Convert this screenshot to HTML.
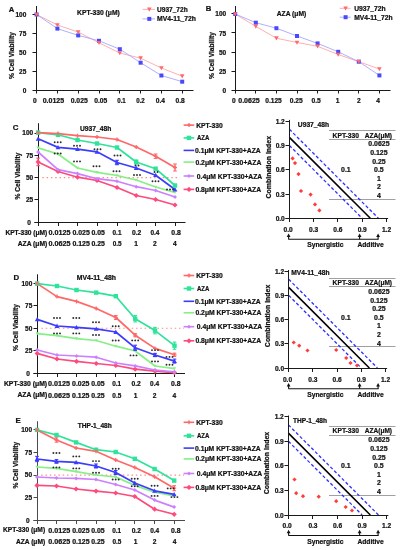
<!DOCTYPE html>
<html><head><meta charset="utf-8"><style>
html,body{margin:0;padding:0;background:#fff;}
body{width:401px;height:550px;overflow:hidden;}
svg{display:block;font-family:"Liberation Sans",sans-serif;will-change:transform;}
text{stroke:#111;stroke-width:0.22px;}
</style></head><body>
<svg width="401" height="550" viewBox="0 0 401 550">
<rect width="401" height="550" fill="#fff"/>
<text x="8.80" y="12.20" font-size="7.7" text-anchor="start" font-weight="bold" fill="#111" >A</text>
<line x1="36.50" y1="6.00" x2="36.50" y2="91.00" stroke="#1a1a1a" stroke-width="1.0" />
<line x1="36.50" y1="90.50" x2="193.50" y2="90.50" stroke="#1a1a1a" stroke-width="1.0" />
<line x1="32.50" y1="90.50" x2="36.50" y2="90.50" stroke="#1a1a1a" stroke-width="1.0" />
<text x="26.30" y="92.98" font-size="6.5" text-anchor="end" font-weight="bold" fill="#111" >0</text>
<line x1="32.50" y1="71.50" x2="36.50" y2="71.50" stroke="#1a1a1a" stroke-width="1.0" />
<text x="26.30" y="74.05" font-size="6.5" text-anchor="end" font-weight="bold" fill="#111" >25</text>
<line x1="32.50" y1="52.50" x2="36.50" y2="52.50" stroke="#1a1a1a" stroke-width="1.0" />
<text x="26.30" y="55.12" font-size="6.5" text-anchor="end" font-weight="bold" fill="#111" >50</text>
<line x1="32.50" y1="33.50" x2="36.50" y2="33.50" stroke="#1a1a1a" stroke-width="1.0" />
<text x="26.30" y="36.20" font-size="6.5" text-anchor="end" font-weight="bold" fill="#111" >75</text>
<line x1="32.50" y1="14.50" x2="36.50" y2="14.50" stroke="#1a1a1a" stroke-width="1.0" />
<text x="26.30" y="17.27" font-size="6.5" text-anchor="end" font-weight="bold" fill="#111" >100</text>
<line x1="36.50" y1="90.50" x2="36.50" y2="93.50" stroke="#1a1a1a" stroke-width="1.0" />
<line x1="57.50" y1="90.50" x2="57.50" y2="93.50" stroke="#1a1a1a" stroke-width="1.0" />
<line x1="78.50" y1="90.50" x2="78.50" y2="93.50" stroke="#1a1a1a" stroke-width="1.0" />
<line x1="99.50" y1="90.50" x2="99.50" y2="93.50" stroke="#1a1a1a" stroke-width="1.0" />
<line x1="119.50" y1="90.50" x2="119.50" y2="93.50" stroke="#1a1a1a" stroke-width="1.0" />
<line x1="140.50" y1="90.50" x2="140.50" y2="93.50" stroke="#1a1a1a" stroke-width="1.0" />
<line x1="161.50" y1="90.50" x2="161.50" y2="93.50" stroke="#1a1a1a" stroke-width="1.0" />
<line x1="182.50" y1="90.50" x2="182.50" y2="93.50" stroke="#1a1a1a" stroke-width="1.0" />
<text x="34.90" y="102.61" font-size="6.6" text-anchor="middle" font-weight="bold" fill="#111" >0</text>
<text x="42.65" y="102.61" font-size="6.6" text-anchor="start" font-weight="bold" fill="#111"  textLength="21.50" lengthAdjust="spacingAndGlyphs">0.0125</text>
<text x="70.65" y="102.61" font-size="6.6" text-anchor="start" font-weight="bold" fill="#111"  textLength="17.10" lengthAdjust="spacingAndGlyphs">0.025</text>
<text x="94.25" y="102.61" font-size="6.6" text-anchor="start" font-weight="bold" fill="#111"  textLength="13.10" lengthAdjust="spacingAndGlyphs">0.05</text>
<text x="117.25" y="102.61" font-size="6.6" text-anchor="start" font-weight="bold" fill="#111"  textLength="8.50" lengthAdjust="spacingAndGlyphs">0.1</text>
<text x="136.25" y="102.61" font-size="6.6" text-anchor="start" font-weight="bold" fill="#111"  textLength="8.50" lengthAdjust="spacingAndGlyphs">0.2</text>
<text x="155.75" y="102.61" font-size="6.6" text-anchor="start" font-weight="bold" fill="#111"  textLength="9.20" lengthAdjust="spacingAndGlyphs">0.4</text>
<text x="175.55" y="102.61" font-size="6.6" text-anchor="start" font-weight="bold" fill="#111"  textLength="9.20" lengthAdjust="spacingAndGlyphs">0.8</text>
<text x="13.91" y="55.50" font-size="6.6" text-anchor="middle" font-weight="bold" fill="#111" transform="rotate(-90 13.91 55.50)">% Cell Viability</text>
<text x="77.05" y="15.28" font-size="6.8" text-anchor="start" font-weight="bold" fill="#111"  textLength="42.70" lengthAdjust="spacingAndGlyphs">KPT-330 (μM)</text>
<polyline points="36.60,14.50 57.40,25.00 78.20,32.00 99.00,42.80 119.80,53.00 140.60,58.20 161.40,68.00 182.20,76.20" fill="none" stroke="#ffa6a6" stroke-width="0.9" stroke-linejoin="round" />
<polyline points="36.60,14.50 57.40,28.60 78.20,35.40 99.00,40.80 119.80,49.20 140.60,62.70 161.40,75.50 182.20,81.70" fill="none" stroke="#a6a6ff" stroke-width="0.9" stroke-linejoin="round" />
<rect x="34.60" y="12.50" width="4.00" height="4.00" fill="#4848ff"/>
<rect x="55.40" y="26.60" width="4.00" height="4.00" fill="#4848ff"/>
<rect x="76.20" y="33.40" width="4.00" height="4.00" fill="#4848ff"/>
<rect x="97.00" y="38.80" width="4.00" height="4.00" fill="#4848ff"/>
<rect x="117.80" y="47.20" width="4.00" height="4.00" fill="#4848ff"/>
<rect x="138.60" y="60.70" width="4.00" height="4.00" fill="#4848ff"/>
<rect x="159.40" y="73.50" width="4.00" height="4.00" fill="#4848ff"/>
<rect x="180.20" y="79.70" width="4.00" height="4.00" fill="#4848ff"/>
<polygon points="34.30,12.66 38.90,12.66 36.60,16.80" fill="#ff6a6a"/>
<polygon points="55.10,23.16 59.70,23.16 57.40,27.30" fill="#ff6a6a"/>
<polygon points="75.90,30.16 80.50,30.16 78.20,34.30" fill="#ff6a6a"/>
<polygon points="96.70,40.96 101.30,40.96 99.00,45.10" fill="#ff6a6a"/>
<polygon points="117.50,51.16 122.10,51.16 119.80,55.30" fill="#ff6a6a"/>
<polygon points="138.30,56.36 142.90,56.36 140.60,60.50" fill="#ff6a6a"/>
<polygon points="159.10,66.16 163.70,66.16 161.40,70.30" fill="#ff6a6a"/>
<polygon points="179.90,74.36 184.50,74.36 182.20,78.50" fill="#ff6a6a"/>
<line x1="142.50" y1="9.40" x2="155.00" y2="9.40" stroke="#ffa6a6" stroke-width="0.9" />
<polygon points="147.00,7.56 151.60,7.56 149.30,11.70" fill="#ff6a6a"/>
<text x="157.05" y="11.88" font-size="6.8" text-anchor="start" font-weight="bold" fill="#111"  textLength="30.60" lengthAdjust="spacingAndGlyphs">U937_72h</text>
<line x1="142.50" y1="18.90" x2="155.00" y2="18.90" stroke="#a6a6ff" stroke-width="0.9" />
<rect x="147.30" y="16.90" width="4.00" height="4.00" fill="#4848ff"/>
<text x="157.05" y="21.38" font-size="6.8" text-anchor="start" font-weight="bold" fill="#111"  textLength="38.80" lengthAdjust="spacingAndGlyphs">MV4-11_72h</text>
<text x="205.80" y="11.30" font-size="7.7" text-anchor="start" font-weight="bold" fill="#111" >B</text>
<line x1="235.50" y1="6.00" x2="235.50" y2="91.00" stroke="#1a1a1a" stroke-width="1.0" />
<line x1="235.50" y1="90.50" x2="390.50" y2="90.50" stroke="#1a1a1a" stroke-width="1.0" />
<line x1="231.50" y1="90.50" x2="235.50" y2="90.50" stroke="#1a1a1a" stroke-width="1.0" />
<text x="226.20" y="92.88" font-size="6.5" text-anchor="end" font-weight="bold" fill="#111" >0</text>
<line x1="231.50" y1="71.50" x2="235.50" y2="71.50" stroke="#1a1a1a" stroke-width="1.0" />
<text x="226.20" y="73.78" font-size="6.5" text-anchor="end" font-weight="bold" fill="#111" >25</text>
<line x1="231.50" y1="52.50" x2="235.50" y2="52.50" stroke="#1a1a1a" stroke-width="1.0" />
<text x="226.20" y="54.67" font-size="6.5" text-anchor="end" font-weight="bold" fill="#111" >50</text>
<line x1="231.50" y1="32.50" x2="235.50" y2="32.50" stroke="#1a1a1a" stroke-width="1.0" />
<text x="226.20" y="35.58" font-size="6.5" text-anchor="end" font-weight="bold" fill="#111" >75</text>
<line x1="231.50" y1="13.50" x2="235.50" y2="13.50" stroke="#1a1a1a" stroke-width="1.0" />
<text x="226.20" y="16.47" font-size="6.5" text-anchor="end" font-weight="bold" fill="#111" >100</text>
<line x1="235.50" y1="90.50" x2="235.50" y2="93.50" stroke="#1a1a1a" stroke-width="1.0" />
<line x1="255.50" y1="90.50" x2="255.50" y2="93.50" stroke="#1a1a1a" stroke-width="1.0" />
<line x1="276.50" y1="90.50" x2="276.50" y2="93.50" stroke="#1a1a1a" stroke-width="1.0" />
<line x1="297.50" y1="90.50" x2="297.50" y2="93.50" stroke="#1a1a1a" stroke-width="1.0" />
<line x1="317.50" y1="90.50" x2="317.50" y2="93.50" stroke="#1a1a1a" stroke-width="1.0" />
<line x1="338.50" y1="90.50" x2="338.50" y2="93.50" stroke="#1a1a1a" stroke-width="1.0" />
<line x1="358.50" y1="90.50" x2="358.50" y2="93.50" stroke="#1a1a1a" stroke-width="1.0" />
<line x1="379.50" y1="90.50" x2="379.50" y2="93.50" stroke="#1a1a1a" stroke-width="1.0" />
<text x="233.90" y="102.61" font-size="6.6" text-anchor="middle" font-weight="bold" fill="#111" >0</text>
<text x="238.25" y="102.61" font-size="6.6" text-anchor="start" font-weight="bold" fill="#111"  textLength="21.50" lengthAdjust="spacingAndGlyphs">0.0625</text>
<text x="265.25" y="102.61" font-size="6.6" text-anchor="start" font-weight="bold" fill="#111"  textLength="16.50" lengthAdjust="spacingAndGlyphs">0.125</text>
<text x="289.85" y="102.61" font-size="6.6" text-anchor="start" font-weight="bold" fill="#111"  textLength="12.90" lengthAdjust="spacingAndGlyphs">0.25</text>
<text x="311.55" y="102.61" font-size="6.6" text-anchor="start" font-weight="bold" fill="#111"  textLength="9.30" lengthAdjust="spacingAndGlyphs">0.5</text>
<text x="337.50" y="102.61" font-size="6.6" text-anchor="middle" font-weight="bold" fill="#111" >1</text>
<text x="358.80" y="102.61" font-size="6.6" text-anchor="middle" font-weight="bold" fill="#111" >2</text>
<text x="378.20" y="102.61" font-size="6.6" text-anchor="middle" font-weight="bold" fill="#111" >4</text>
<text x="213.71" y="55.50" font-size="6.6" text-anchor="middle" font-weight="bold" fill="#111" transform="rotate(-90 213.71 55.50)">% Cell Viability</text>
<text x="276.75" y="15.88" font-size="6.8" text-anchor="start" font-weight="bold" fill="#111"  textLength="29.50" lengthAdjust="spacingAndGlyphs">AZA (μM)</text>
<polyline points="235.20,14.00 255.80,26.40 276.40,38.20 297.00,42.50 317.60,46.30 338.20,54.50 358.80,61.70 379.40,69.00" fill="none" stroke="#ffa6a6" stroke-width="0.9" stroke-linejoin="round" />
<polyline points="235.20,14.00 255.80,22.70 276.40,28.20 297.00,36.00 317.60,43.40 338.20,51.80 358.80,61.70 379.40,75.40" fill="none" stroke="#a6a6ff" stroke-width="0.9" stroke-linejoin="round" />
<rect x="233.20" y="12.00" width="4.00" height="4.00" fill="#4848ff"/>
<rect x="253.80" y="20.70" width="4.00" height="4.00" fill="#4848ff"/>
<rect x="274.40" y="26.20" width="4.00" height="4.00" fill="#4848ff"/>
<rect x="295.00" y="34.00" width="4.00" height="4.00" fill="#4848ff"/>
<rect x="315.60" y="41.40" width="4.00" height="4.00" fill="#4848ff"/>
<rect x="336.20" y="49.80" width="4.00" height="4.00" fill="#4848ff"/>
<rect x="356.80" y="59.70" width="4.00" height="4.00" fill="#4848ff"/>
<rect x="377.40" y="73.40" width="4.00" height="4.00" fill="#4848ff"/>
<polygon points="232.90,12.16 237.50,12.16 235.20,16.30" fill="#ff6a6a"/>
<polygon points="253.50,24.56 258.10,24.56 255.80,28.70" fill="#ff6a6a"/>
<polygon points="274.10,36.36 278.70,36.36 276.40,40.50" fill="#ff6a6a"/>
<polygon points="294.70,40.66 299.30,40.66 297.00,44.80" fill="#ff6a6a"/>
<polygon points="315.30,44.46 319.90,44.46 317.60,48.60" fill="#ff6a6a"/>
<polygon points="335.90,52.66 340.50,52.66 338.20,56.80" fill="#ff6a6a"/>
<polygon points="356.50,59.86 361.10,59.86 358.80,64.00" fill="#ff6a6a"/>
<polygon points="377.10,67.16 381.70,67.16 379.40,71.30" fill="#ff6a6a"/>
<line x1="339.70" y1="8.30" x2="350.60" y2="8.30" stroke="#ffa6a6" stroke-width="0.9" />
<polygon points="343.30,6.46 347.90,6.46 345.60,10.60" fill="#ff6a6a"/>
<text x="354.15" y="10.78" font-size="6.8" text-anchor="start" font-weight="bold" fill="#111"  textLength="31.40" lengthAdjust="spacingAndGlyphs">U937_72h</text>
<line x1="339.70" y1="17.20" x2="350.60" y2="17.20" stroke="#a6a6ff" stroke-width="0.9" />
<rect x="343.60" y="15.20" width="4.00" height="4.00" fill="#4848ff"/>
<text x="354.15" y="19.68" font-size="6.8" text-anchor="start" font-weight="bold" fill="#111"  textLength="38.40" lengthAdjust="spacingAndGlyphs">MV4-11_72h</text>
<text x="12.80" y="130.30" font-size="7.9" text-anchor="start" font-weight="bold" fill="#111" >C</text>
<line x1="38.50" y1="123.20" x2="38.50" y2="226.00" stroke="#1a1a1a" stroke-width="1.0" />
<line x1="34.50" y1="222.50" x2="185.50" y2="222.50" stroke="#1a1a1a" stroke-width="1.0" />
<line x1="34.50" y1="222.50" x2="38.50" y2="222.50" stroke="#1a1a1a" stroke-width="1.0" />
<text x="30.80" y="225.18" font-size="6.5" text-anchor="end" font-weight="bold" fill="#111" >0</text>
<line x1="34.50" y1="199.50" x2="38.50" y2="199.50" stroke="#1a1a1a" stroke-width="1.0" />
<text x="33.20" y="202.35" font-size="6.5" text-anchor="end" font-weight="bold" fill="#111" >25</text>
<line x1="34.50" y1="177.50" x2="38.50" y2="177.50" stroke="#1a1a1a" stroke-width="1.0" />
<text x="33.20" y="180.03" font-size="6.5" text-anchor="end" font-weight="bold" fill="#111" >50</text>
<line x1="34.50" y1="155.50" x2="38.50" y2="155.50" stroke="#1a1a1a" stroke-width="1.0" />
<text x="33.20" y="157.70" font-size="6.5" text-anchor="end" font-weight="bold" fill="#111" >75</text>
<line x1="34.50" y1="133.50" x2="38.50" y2="133.50" stroke="#1a1a1a" stroke-width="1.0" />
<text x="33.20" y="135.38" font-size="6.5" text-anchor="end" font-weight="bold" fill="#111" >100</text>
<line x1="58.50" y1="222.50" x2="58.50" y2="226.00" stroke="#1a1a1a" stroke-width="1.0" />
<line x1="77.50" y1="222.50" x2="77.50" y2="226.00" stroke="#1a1a1a" stroke-width="1.0" />
<line x1="97.50" y1="222.50" x2="97.50" y2="226.00" stroke="#1a1a1a" stroke-width="1.0" />
<line x1="117.50" y1="222.50" x2="117.50" y2="226.00" stroke="#1a1a1a" stroke-width="1.0" />
<line x1="136.50" y1="222.50" x2="136.50" y2="226.00" stroke="#1a1a1a" stroke-width="1.0" />
<line x1="155.50" y1="222.50" x2="155.50" y2="226.00" stroke="#1a1a1a" stroke-width="1.0" />
<line x1="175.50" y1="222.50" x2="175.50" y2="226.00" stroke="#1a1a1a" stroke-width="1.0" />
<text x="20.11" y="176.00" font-size="6.6" text-anchor="middle" font-weight="bold" fill="#111" transform="rotate(-90 20.11 176.00)">% Cell Viability</text>
<text x="5.45" y="234.68" font-size="6.5" text-anchor="start" font-weight="bold" fill="#111"  textLength="41.80" lengthAdjust="spacingAndGlyphs">KPT-330 (μM)</text>
<text x="17.75" y="245.68" font-size="6.5" text-anchor="start" font-weight="bold" fill="#111"  textLength="29.50" lengthAdjust="spacingAndGlyphs">AZA (μM)</text>
<text x="48.45" y="234.71" font-size="6.6" text-anchor="start" font-weight="bold" fill="#111"  textLength="22.00" lengthAdjust="spacingAndGlyphs">0.0125</text>
<text x="72.45" y="234.71" font-size="6.6" text-anchor="start" font-weight="bold" fill="#111"  textLength="17.40" lengthAdjust="spacingAndGlyphs">0.025</text>
<text x="91.55" y="234.71" font-size="6.6" text-anchor="start" font-weight="bold" fill="#111"  textLength="13.40" lengthAdjust="spacingAndGlyphs">0.05</text>
<text x="112.55" y="234.71" font-size="6.6" text-anchor="start" font-weight="bold" fill="#111"  textLength="8.90" lengthAdjust="spacingAndGlyphs">0.1</text>
<text x="131.95" y="234.71" font-size="6.6" text-anchor="start" font-weight="bold" fill="#111"  textLength="9.30" lengthAdjust="spacingAndGlyphs">0.2</text>
<text x="150.45" y="234.71" font-size="6.6" text-anchor="start" font-weight="bold" fill="#111"  textLength="9.00" lengthAdjust="spacingAndGlyphs">0.4</text>
<text x="171.35" y="234.71" font-size="6.6" text-anchor="start" font-weight="bold" fill="#111"  textLength="9.50" lengthAdjust="spacingAndGlyphs">0.8</text>
<text x="48.45" y="245.71" font-size="6.6" text-anchor="start" font-weight="bold" fill="#111"  textLength="22.00" lengthAdjust="spacingAndGlyphs">0.0625</text>
<text x="72.45" y="245.71" font-size="6.6" text-anchor="start" font-weight="bold" fill="#111"  textLength="17.40" lengthAdjust="spacingAndGlyphs">0.125</text>
<text x="91.55" y="245.71" font-size="6.6" text-anchor="start" font-weight="bold" fill="#111"  textLength="13.40" lengthAdjust="spacingAndGlyphs">0.25</text>
<text x="112.75" y="245.71" font-size="6.6" text-anchor="start" font-weight="bold" fill="#111"  textLength="8.90" lengthAdjust="spacingAndGlyphs">0.5</text>
<text x="136.00" y="245.71" font-size="6.6" text-anchor="middle" font-weight="bold" fill="#111" >1</text>
<text x="154.90" y="245.71" font-size="6.6" text-anchor="middle" font-weight="bold" fill="#111" >2</text>
<text x="174.80" y="245.71" font-size="6.6" text-anchor="middle" font-weight="bold" fill="#111" >4</text>
<text x="79.95" y="130.78" font-size="6.8" text-anchor="start" font-weight="bold" fill="#111"  textLength="31.40" lengthAdjust="spacingAndGlyphs">U937_48h</text>
<line x1="42.30" y1="177.65" x2="180.00" y2="177.65" stroke="#ff8c8c" stroke-width="1.1" stroke-dasharray="1.5 2.8"/>
<polyline points="38.10,161.90 58.00,171.50 77.50,177.20 97.00,180.50 117.00,187.50 136.20,195.50 155.60,199.50 175.00,205.00" fill="none" stroke="#ff4a7c" stroke-width="1.7" stroke-linejoin="round" />
<polyline points="38.10,152.00 58.00,169.70 77.50,173.60 97.00,178.70 117.00,181.20 136.20,186.70 155.60,190.50 175.00,197.00" fill="none" stroke="#cc80ff" stroke-width="1.7" stroke-linejoin="round" />
<polyline points="38.10,147.90 58.00,154.00 77.50,168.00 97.00,172.40 117.00,175.50 136.20,180.00 155.60,187.00 175.00,192.50" fill="none" stroke="#86f086" stroke-width="1.7" stroke-linejoin="round" />
<polyline points="38.10,138.80 58.00,147.40 77.50,149.10 97.00,151.80 117.00,162.50 136.20,168.00 155.60,175.20 175.00,189.50" fill="none" stroke="#3c3cff" stroke-width="1.7" stroke-linejoin="round" />
<polyline points="38.10,132.60 58.00,134.80 77.50,140.00 97.00,143.50 117.00,147.50 136.20,162.00 155.60,168.70 175.00,185.50" fill="none" stroke="#2ee39a" stroke-width="1.7" stroke-linejoin="round" />
<polyline points="38.10,132.60 58.00,133.60 77.50,135.70 97.00,137.00 117.00,139.50 136.20,147.00 155.60,156.20 175.00,167.50" fill="none" stroke="#ff6868" stroke-width="1.7" stroke-linejoin="round" />
<polygon points="38.10,159.30 40.70,161.90 38.10,164.50 35.50,161.90" fill="#ff4a7c"/>
<polygon points="58.00,168.90 60.60,171.50 58.00,174.10 55.40,171.50" fill="#ff4a7c"/>
<polygon points="77.50,174.60 80.10,177.20 77.50,179.80 74.90,177.20" fill="#ff4a7c"/>
<polygon points="97.00,177.90 99.60,180.50 97.00,183.10 94.40,180.50" fill="#ff4a7c"/>
<polygon points="117.00,184.90 119.60,187.50 117.00,190.10 114.40,187.50" fill="#ff4a7c"/>
<polygon points="136.20,192.90 138.80,195.50 136.20,198.10 133.60,195.50" fill="#ff4a7c"/>
<polygon points="155.60,196.90 158.20,199.50 155.60,202.10 153.00,199.50" fill="#ff4a7c"/>
<polygon points="175.00,202.40 177.60,205.00 175.00,207.60 172.40,205.00" fill="#ff4a7c"/>
<polygon points="38.10,150.00 40.10,152.00 38.10,154.00 36.10,152.00" fill="#cc80ff"/>
<polygon points="58.00,167.70 60.00,169.70 58.00,171.70 56.00,169.70" fill="#cc80ff"/>
<polygon points="77.50,171.60 79.50,173.60 77.50,175.60 75.50,173.60" fill="#cc80ff"/>
<polygon points="97.00,176.70 99.00,178.70 97.00,180.70 95.00,178.70" fill="#cc80ff"/>
<polygon points="117.00,179.20 119.00,181.20 117.00,183.20 115.00,181.20" fill="#cc80ff"/>
<polygon points="136.20,184.70 138.20,186.70 136.20,188.70 134.20,186.70" fill="#cc80ff"/>
<polygon points="155.60,188.50 157.60,190.50 155.60,192.50 153.60,190.50" fill="#cc80ff"/>
<polygon points="175.00,195.00 177.00,197.00 175.00,199.00 173.00,197.00" fill="#cc80ff"/>
<polygon points="36.50,146.62 39.70,146.62 38.10,149.50" fill="#86f086"/>
<polygon points="56.40,152.72 59.60,152.72 58.00,155.60" fill="#86f086"/>
<polygon points="75.90,166.72 79.10,166.72 77.50,169.60" fill="#86f086"/>
<polygon points="95.40,171.12 98.60,171.12 97.00,174.00" fill="#86f086"/>
<polygon points="115.40,174.22 118.60,174.22 117.00,177.10" fill="#86f086"/>
<polygon points="134.60,178.72 137.80,178.72 136.20,181.60" fill="#86f086"/>
<polygon points="154.00,185.72 157.20,185.72 155.60,188.60" fill="#86f086"/>
<polygon points="173.40,191.22 176.60,191.22 175.00,194.10" fill="#86f086"/>
<polygon points="35.70,140.72 40.50,140.72 38.10,136.40" fill="#3c3cff"/>
<polygon points="55.60,149.32 60.40,149.32 58.00,145.00" fill="#3c3cff"/>
<polygon points="75.10,151.02 79.90,151.02 77.50,146.70" fill="#3c3cff"/>
<polygon points="94.60,153.72 99.40,153.72 97.00,149.40" fill="#3c3cff"/>
<polygon points="114.60,164.42 119.40,164.42 117.00,160.10" fill="#3c3cff"/>
<polygon points="133.80,169.92 138.60,169.92 136.20,165.60" fill="#3c3cff"/>
<polygon points="153.20,177.12 158.00,177.12 155.60,172.80" fill="#3c3cff"/>
<polygon points="172.60,191.42 177.40,191.42 175.00,187.10" fill="#3c3cff"/>
<rect x="35.90" y="130.40" width="4.40" height="4.40" fill="#2ee39a"/>
<rect x="55.80" y="132.60" width="4.40" height="4.40" fill="#2ee39a"/>
<rect x="75.30" y="137.80" width="4.40" height="4.40" fill="#2ee39a"/>
<rect x="94.80" y="141.30" width="4.40" height="4.40" fill="#2ee39a"/>
<rect x="114.80" y="145.30" width="4.40" height="4.40" fill="#2ee39a"/>
<rect x="134.00" y="159.80" width="4.40" height="4.40" fill="#2ee39a"/>
<rect x="153.40" y="166.50" width="4.40" height="4.40" fill="#2ee39a"/>
<rect x="172.80" y="183.30" width="4.40" height="4.40" fill="#2ee39a"/>
<path d="M36.10 132.60H40.10M38.10 130.60V134.60" stroke="#ff6868" stroke-width="1.3"/>
<path d="M56.00 133.60H60.00M58.00 131.60V135.60" stroke="#ff6868" stroke-width="1.3"/>
<path d="M75.50 135.70H79.50M77.50 133.70V137.70" stroke="#ff6868" stroke-width="1.3"/>
<path d="M95.00 137.00H99.00M97.00 135.00V139.00" stroke="#ff6868" stroke-width="1.3"/>
<path d="M115.00 139.50H119.00M117.00 137.50V141.50" stroke="#ff6868" stroke-width="1.3"/>
<path d="M134.20 147.00H138.20M136.20 145.00V149.00" stroke="#ff6868" stroke-width="1.3"/>
<path d="M153.60 156.20H157.60M155.60 154.20V158.20" stroke="#ff6868" stroke-width="1.3"/>
<path d="M173.00 167.50H177.00M175.00 165.50V169.50" stroke="#ff6868" stroke-width="1.3"/>
<line x1="155.60" y1="154.00" x2="155.60" y2="158.40" stroke="#ff6868" stroke-width="1.2" />
<line x1="153.80" y1="154.00" x2="157.40" y2="154.00" stroke="#ff6868" stroke-width="1.1" />
<line x1="153.80" y1="158.40" x2="157.40" y2="158.40" stroke="#ff6868" stroke-width="1.1" />
<line x1="175.00" y1="164.00" x2="175.00" y2="171.00" stroke="#ff6868" stroke-width="1.2" />
<line x1="173.20" y1="164.00" x2="176.80" y2="164.00" stroke="#ff6868" stroke-width="1.1" />
<line x1="173.20" y1="171.00" x2="176.80" y2="171.00" stroke="#ff6868" stroke-width="1.1" />
<line x1="117.00" y1="160.30" x2="117.00" y2="164.70" stroke="#3c3cff" stroke-width="1.2" />
<line x1="115.20" y1="160.30" x2="118.80" y2="160.30" stroke="#3c3cff" stroke-width="1.1" />
<line x1="115.20" y1="164.70" x2="118.80" y2="164.70" stroke="#3c3cff" stroke-width="1.1" />
<line x1="38.10" y1="158.10" x2="38.10" y2="165.70" stroke="#ff4a7c" stroke-width="1.2" />
<line x1="36.30" y1="158.10" x2="39.90" y2="158.10" stroke="#ff4a7c" stroke-width="1.1" />
<line x1="36.30" y1="165.70" x2="39.90" y2="165.70" stroke="#ff4a7c" stroke-width="1.1" />
<line x1="136.20" y1="160.00" x2="136.20" y2="164.00" stroke="#2ee39a" stroke-width="1.2" />
<line x1="134.40" y1="160.00" x2="138.00" y2="160.00" stroke="#2ee39a" stroke-width="1.1" />
<line x1="134.40" y1="164.00" x2="138.00" y2="164.00" stroke="#2ee39a" stroke-width="1.1" />
<circle cx="54.70" cy="142.20" r="0.95" fill="#2a2a2a"/>
<circle cx="57.70" cy="142.20" r="0.95" fill="#2a2a2a"/>
<circle cx="60.70" cy="142.20" r="0.95" fill="#2a2a2a"/>
<circle cx="74.00" cy="145.70" r="0.95" fill="#2a2a2a"/>
<circle cx="77.00" cy="145.70" r="0.95" fill="#2a2a2a"/>
<circle cx="80.00" cy="145.70" r="0.95" fill="#2a2a2a"/>
<circle cx="94.50" cy="149.20" r="0.95" fill="#2a2a2a"/>
<circle cx="97.50" cy="149.20" r="0.95" fill="#2a2a2a"/>
<circle cx="100.50" cy="149.20" r="0.95" fill="#2a2a2a"/>
<circle cx="114.50" cy="155.50" r="0.95" fill="#2a2a2a"/>
<circle cx="117.50" cy="155.50" r="0.95" fill="#2a2a2a"/>
<circle cx="120.50" cy="155.50" r="0.95" fill="#2a2a2a"/>
<circle cx="135.50" cy="165.50" r="0.95" fill="#2a2a2a"/>
<circle cx="138.50" cy="165.50" r="0.95" fill="#2a2a2a"/>
<circle cx="154.50" cy="172.00" r="0.95" fill="#2a2a2a"/>
<circle cx="157.50" cy="172.00" r="0.95" fill="#2a2a2a"/>
<circle cx="54.70" cy="153.50" r="0.95" fill="#2a2a2a"/>
<circle cx="57.70" cy="153.50" r="0.95" fill="#2a2a2a"/>
<circle cx="60.70" cy="153.50" r="0.95" fill="#2a2a2a"/>
<circle cx="74.00" cy="161.40" r="0.95" fill="#2a2a2a"/>
<circle cx="77.00" cy="161.40" r="0.95" fill="#2a2a2a"/>
<circle cx="80.00" cy="161.40" r="0.95" fill="#2a2a2a"/>
<circle cx="93.50" cy="166.30" r="0.95" fill="#2a2a2a"/>
<circle cx="96.50" cy="166.30" r="0.95" fill="#2a2a2a"/>
<circle cx="99.50" cy="166.30" r="0.95" fill="#2a2a2a"/>
<circle cx="113.50" cy="171.20" r="0.95" fill="#2a2a2a"/>
<circle cx="116.50" cy="171.20" r="0.95" fill="#2a2a2a"/>
<circle cx="119.50" cy="171.20" r="0.95" fill="#2a2a2a"/>
<circle cx="134.00" cy="175.00" r="0.95" fill="#2a2a2a"/>
<circle cx="137.00" cy="175.00" r="0.95" fill="#2a2a2a"/>
<circle cx="140.00" cy="175.00" r="0.95" fill="#2a2a2a"/>
<circle cx="152.50" cy="181.20" r="0.95" fill="#2a2a2a"/>
<circle cx="155.50" cy="181.20" r="0.95" fill="#2a2a2a"/>
<circle cx="158.50" cy="181.20" r="0.95" fill="#2a2a2a"/>
<circle cx="167.00" cy="189.50" r="0.95" fill="#2a2a2a"/>
<circle cx="170.00" cy="189.50" r="0.95" fill="#2a2a2a"/>
<circle cx="173.00" cy="189.50" r="0.95" fill="#2a2a2a"/>
<line x1="183.60" y1="125.10" x2="194.20" y2="125.10" stroke="#ff6868" stroke-width="1.6" />
<path d="M187.00 125.10H191.00M189.00 123.10V127.10" stroke="#ff6868" stroke-width="1.3"/>
<text x="196.25" y="127.68" font-size="6.8" text-anchor="start" font-weight="bold" fill="#111"  textLength="26.50" lengthAdjust="spacingAndGlyphs">KPT-330</text>
<line x1="183.60" y1="137.90" x2="194.20" y2="137.90" stroke="#2ee39a" stroke-width="1.6" />
<rect x="186.80" y="135.70" width="4.40" height="4.40" fill="#2ee39a"/>
<text x="196.95" y="140.48" font-size="6.8" text-anchor="start" font-weight="bold" fill="#111"  textLength="12.30" lengthAdjust="spacingAndGlyphs">AZA</text>
<line x1="183.60" y1="150.40" x2="194.20" y2="150.40" stroke="#3c3cff" stroke-width="1.6" />
<text x="195.05" y="152.98" font-size="6.8" text-anchor="start" font-weight="bold" fill="#111"  textLength="65.70" lengthAdjust="spacingAndGlyphs">0.1μM KPT-330+AZA</text>
<line x1="183.60" y1="162.10" x2="194.20" y2="162.10" stroke="#86f086" stroke-width="1.6" />
<text x="195.45" y="164.68" font-size="6.8" text-anchor="start" font-weight="bold" fill="#111"  textLength="65.90" lengthAdjust="spacingAndGlyphs">0.2μM KPT-330+AZA</text>
<line x1="183.60" y1="176.00" x2="194.20" y2="176.00" stroke="#cc80ff" stroke-width="1.6" />
<polygon points="189.00,174.00 191.00,176.00 189.00,178.00 187.00,176.00" fill="#cc80ff"/>
<text x="196.75" y="178.58" font-size="6.8" text-anchor="start" font-weight="bold" fill="#111"  textLength="65.50" lengthAdjust="spacingAndGlyphs">0.4μM KPT-330+AZA</text>
<line x1="183.60" y1="189.40" x2="194.20" y2="189.40" stroke="#ff4a7c" stroke-width="1.6" />
<polygon points="189.00,186.80 191.60,189.40 189.00,192.00 186.40,189.40" fill="#ff4a7c"/>
<text x="195.45" y="191.98" font-size="6.8" text-anchor="start" font-weight="bold" fill="#111"  textLength="65.70" lengthAdjust="spacingAndGlyphs">0.8μM KPT-330+AZA</text>
<line x1="329.00" y1="130.50" x2="395.50" y2="130.50" stroke="#a0a0a0" stroke-width="1.0" />
<line x1="329.00" y1="139.50" x2="395.50" y2="139.50" stroke="#a0a0a0" stroke-width="1.0" />
<line x1="329.00" y1="199.50" x2="395.50" y2="199.50" stroke="#a0a0a0" stroke-width="1.0" />
<line x1="289.40" y1="129.29" x2="378.41" y2="218.30" stroke="#2f2fff" stroke-width="1.3" stroke-dasharray="3.2 2.2"/>
<line x1="289.40" y1="145.48" x2="362.22" y2="218.30" stroke="#2f2fff" stroke-width="1.3" stroke-dasharray="3.2 2.2"/>
<line x1="289.40" y1="137.38" x2="370.32" y2="218.30" stroke="#000" stroke-width="1.6" />
<line x1="289.50" y1="119.90" x2="289.50" y2="222.00" stroke="#1a1a1a" stroke-width="1.0" />
<line x1="285.50" y1="218.50" x2="388.12" y2="218.50" stroke="#1a1a1a" stroke-width="1.0" />
<line x1="285.50" y1="218.50" x2="289.50" y2="218.50" stroke="#1a1a1a" stroke-width="1.0" />
<text x="284.80" y="220.81" font-size="6.6" text-anchor="end" font-weight="bold" fill="#111" >0.0</text>
<text x="288.20" y="231.51" font-size="6.6" text-anchor="middle" font-weight="bold" fill="#111" >0.0</text>
<line x1="285.50" y1="194.50" x2="289.50" y2="194.50" stroke="#1a1a1a" stroke-width="1.0" />
<text x="284.80" y="196.53" font-size="6.6" text-anchor="end" font-weight="bold" fill="#111" >0.3</text>
<line x1="313.50" y1="218.50" x2="313.50" y2="222.00" stroke="#1a1a1a" stroke-width="1.0" />
<text x="313.67" y="231.51" font-size="6.6" text-anchor="middle" font-weight="bold" fill="#111" >0.3</text>
<line x1="285.50" y1="169.50" x2="289.50" y2="169.50" stroke="#1a1a1a" stroke-width="1.0" />
<text x="284.80" y="172.26" font-size="6.6" text-anchor="end" font-weight="bold" fill="#111" >0.6</text>
<line x1="337.50" y1="218.50" x2="337.50" y2="222.00" stroke="#1a1a1a" stroke-width="1.0" />
<text x="337.95" y="231.51" font-size="6.6" text-anchor="middle" font-weight="bold" fill="#111" >0.6</text>
<line x1="285.50" y1="145.50" x2="289.50" y2="145.50" stroke="#1a1a1a" stroke-width="1.0" />
<text x="284.80" y="147.99" font-size="6.6" text-anchor="end" font-weight="bold" fill="#111" >0.9</text>
<line x1="362.50" y1="218.50" x2="362.50" y2="222.00" stroke="#1a1a1a" stroke-width="1.0" />
<text x="362.22" y="231.51" font-size="6.6" text-anchor="middle" font-weight="bold" fill="#111" >0.9</text>
<line x1="285.50" y1="121.50" x2="289.50" y2="121.50" stroke="#1a1a1a" stroke-width="1.0" />
<text x="284.80" y="123.71" font-size="6.6" text-anchor="end" font-weight="bold" fill="#111" >1.2</text>
<line x1="386.50" y1="218.50" x2="386.50" y2="222.00" stroke="#1a1a1a" stroke-width="1.0" />
<text x="386.50" y="231.51" font-size="6.6" text-anchor="middle" font-weight="bold" fill="#111" >1.2</text>
<text x="271.18" y="167.20" font-size="6.95" text-anchor="middle" font-weight="bold" fill="#111" transform="rotate(-90 271.18 167.20)">Combination index</text>
<text x="297.85" y="127.08" font-size="6.8" text-anchor="start" font-weight="bold" fill="#111"  textLength="31.20" lengthAdjust="spacingAndGlyphs">U937_48h</text>
<polygon points="292.60,156.30 294.70,158.40 292.60,160.50 290.50,158.40" fill="#ff3b3b"/>
<polygon points="295.00,161.00 297.10,163.10 295.00,165.20 292.90,163.10" fill="#ff3b3b"/>
<polygon points="298.50,172.00 300.60,174.10 298.50,176.20 296.40,174.10" fill="#ff3b3b"/>
<polygon points="301.00,188.90 303.10,191.00 301.00,193.10 298.90,191.00" fill="#ff3b3b"/>
<polygon points="310.60,192.50 312.70,194.60 310.60,196.70 308.50,194.60" fill="#ff3b3b"/>
<polygon points="315.00,202.30 317.10,204.40 315.00,206.50 312.90,204.40" fill="#ff3b3b"/>
<polygon points="319.40,208.30 321.50,210.40 319.40,212.50 317.30,210.40" fill="#ff3b3b"/>
<text x="332.55" y="137.54" font-size="6.7" text-anchor="start" font-weight="bold" fill="#111"  textLength="26.50" lengthAdjust="spacingAndGlyphs">KPT-330</text>
<text x="364.75" y="137.54" font-size="6.7" text-anchor="start" font-weight="bold" fill="#111"  textLength="27.30" lengthAdjust="spacingAndGlyphs">AZA(μM)</text>
<text x="378.90" y="146.43" font-size="6.95" text-anchor="middle" font-weight="bold" fill="#111" >0.0625</text>
<text x="378.90" y="155.03" font-size="6.95" text-anchor="middle" font-weight="bold" fill="#111" >0.125</text>
<text x="378.90" y="163.63" font-size="6.95" text-anchor="middle" font-weight="bold" fill="#111" >0.25</text>
<text x="378.90" y="172.23" font-size="6.95" text-anchor="middle" font-weight="bold" fill="#111" >0.5</text>
<text x="378.90" y="180.83" font-size="6.95" text-anchor="middle" font-weight="bold" fill="#111" >1</text>
<text x="378.90" y="189.43" font-size="6.95" text-anchor="middle" font-weight="bold" fill="#111" >2</text>
<text x="378.90" y="198.03" font-size="6.95" text-anchor="middle" font-weight="bold" fill="#111" >4</text>
<text x="345.90" y="172.23" font-size="6.95" text-anchor="middle" font-weight="bold" fill="#111" >0.1</text>
<line x1="288.40" y1="239.20" x2="378.60" y2="239.20" stroke="#111" stroke-width="1.1" />
<line x1="288.60" y1="239.20" x2="288.60" y2="235.70" stroke="#111" stroke-width="1.1" />
<polygon points="286.70,236.90 290.50,236.90 288.60,233.50" fill="#111"/>
<line x1="359.60" y1="239.20" x2="359.60" y2="235.70" stroke="#111" stroke-width="1.1" />
<polygon points="357.70,236.90 361.50,236.90 359.60,233.50" fill="#111"/>
<line x1="378.10" y1="239.20" x2="378.10" y2="235.70" stroke="#111" stroke-width="1.1" />
<polygon points="376.20,236.90 380.00,236.90 378.10,233.50" fill="#111"/>
<text x="325.40" y="247.15" font-size="6.7" text-anchor="middle" font-weight="bold" fill="#111" >Synergistic</text>
<text x="370.60" y="247.15" font-size="6.7" text-anchor="middle" font-weight="bold" fill="#111" >Additive</text>
<text x="13.60" y="280.30" font-size="7.9" text-anchor="start" font-weight="bold" fill="#111" >D</text>
<line x1="37.50" y1="274.30" x2="37.50" y2="377.00" stroke="#1a1a1a" stroke-width="1.0" />
<line x1="33.50" y1="373.50" x2="185.00" y2="373.50" stroke="#1a1a1a" stroke-width="1.0" />
<line x1="33.50" y1="373.50" x2="37.50" y2="373.50" stroke="#1a1a1a" stroke-width="1.0" />
<text x="29.90" y="375.88" font-size="6.5" text-anchor="end" font-weight="bold" fill="#111" >0</text>
<line x1="33.50" y1="350.50" x2="37.50" y2="350.50" stroke="#1a1a1a" stroke-width="1.0" />
<text x="32.30" y="353.02" font-size="6.5" text-anchor="end" font-weight="bold" fill="#111" >25</text>
<line x1="33.50" y1="328.50" x2="37.50" y2="328.50" stroke="#1a1a1a" stroke-width="1.0" />
<text x="32.30" y="330.68" font-size="6.5" text-anchor="end" font-weight="bold" fill="#111" >50</text>
<line x1="33.50" y1="305.50" x2="37.50" y2="305.50" stroke="#1a1a1a" stroke-width="1.0" />
<text x="32.30" y="308.33" font-size="6.5" text-anchor="end" font-weight="bold" fill="#111" >75</text>
<line x1="33.50" y1="283.50" x2="37.50" y2="283.50" stroke="#1a1a1a" stroke-width="1.0" />
<text x="32.30" y="285.98" font-size="6.5" text-anchor="end" font-weight="bold" fill="#111" >100</text>
<line x1="57.50" y1="373.50" x2="57.50" y2="377.00" stroke="#1a1a1a" stroke-width="1.0" />
<line x1="76.50" y1="373.50" x2="76.50" y2="377.00" stroke="#1a1a1a" stroke-width="1.0" />
<line x1="96.50" y1="373.50" x2="96.50" y2="377.00" stroke="#1a1a1a" stroke-width="1.0" />
<line x1="115.50" y1="373.50" x2="115.50" y2="377.00" stroke="#1a1a1a" stroke-width="1.0" />
<line x1="135.50" y1="373.50" x2="135.50" y2="377.00" stroke="#1a1a1a" stroke-width="1.0" />
<line x1="155.50" y1="373.50" x2="155.50" y2="377.00" stroke="#1a1a1a" stroke-width="1.0" />
<line x1="174.50" y1="373.50" x2="174.50" y2="377.00" stroke="#1a1a1a" stroke-width="1.0" />
<text x="18.21" y="327.50" font-size="6.6" text-anchor="middle" font-weight="bold" fill="#111" transform="rotate(-90 18.21 327.50)">% Cell Viability</text>
<text x="3.95" y="385.97" font-size="6.5" text-anchor="start" font-weight="bold" fill="#111"  textLength="43.20" lengthAdjust="spacingAndGlyphs">KPT-330 (μM)</text>
<text x="17.45" y="397.47" font-size="6.5" text-anchor="start" font-weight="bold" fill="#111"  textLength="29.70" lengthAdjust="spacingAndGlyphs">AZA (μM)</text>
<text x="48.05" y="386.01" font-size="6.6" text-anchor="start" font-weight="bold" fill="#111"  textLength="22.00" lengthAdjust="spacingAndGlyphs">0.0125</text>
<text x="72.05" y="386.01" font-size="6.6" text-anchor="start" font-weight="bold" fill="#111"  textLength="17.40" lengthAdjust="spacingAndGlyphs">0.025</text>
<text x="91.15" y="386.01" font-size="6.6" text-anchor="start" font-weight="bold" fill="#111"  textLength="13.40" lengthAdjust="spacingAndGlyphs">0.05</text>
<text x="112.15" y="386.01" font-size="6.6" text-anchor="start" font-weight="bold" fill="#111"  textLength="8.90" lengthAdjust="spacingAndGlyphs">0.1</text>
<text x="131.55" y="386.01" font-size="6.6" text-anchor="start" font-weight="bold" fill="#111"  textLength="9.30" lengthAdjust="spacingAndGlyphs">0.2</text>
<text x="150.05" y="386.01" font-size="6.6" text-anchor="start" font-weight="bold" fill="#111"  textLength="9.00" lengthAdjust="spacingAndGlyphs">0.4</text>
<text x="170.95" y="386.01" font-size="6.6" text-anchor="start" font-weight="bold" fill="#111"  textLength="9.50" lengthAdjust="spacingAndGlyphs">0.8</text>
<text x="48.05" y="397.51" font-size="6.6" text-anchor="start" font-weight="bold" fill="#111"  textLength="22.00" lengthAdjust="spacingAndGlyphs">0.0625</text>
<text x="72.05" y="397.51" font-size="6.6" text-anchor="start" font-weight="bold" fill="#111"  textLength="17.40" lengthAdjust="spacingAndGlyphs">0.125</text>
<text x="91.15" y="397.51" font-size="6.6" text-anchor="start" font-weight="bold" fill="#111"  textLength="13.40" lengthAdjust="spacingAndGlyphs">0.25</text>
<text x="112.35" y="397.51" font-size="6.6" text-anchor="start" font-weight="bold" fill="#111"  textLength="8.90" lengthAdjust="spacingAndGlyphs">0.5</text>
<text x="135.60" y="397.51" font-size="6.6" text-anchor="middle" font-weight="bold" fill="#111" >1</text>
<text x="154.50" y="397.51" font-size="6.6" text-anchor="middle" font-weight="bold" fill="#111" >2</text>
<text x="174.40" y="397.51" font-size="6.6" text-anchor="middle" font-weight="bold" fill="#111" >4</text>
<text x="76.85" y="279.88" font-size="6.8" text-anchor="start" font-weight="bold" fill="#111"  textLength="39.10" lengthAdjust="spacingAndGlyphs">MV4-11_48h</text>
<line x1="41.40" y1="328.30" x2="184.00" y2="328.30" stroke="#ff8c8c" stroke-width="1.1" stroke-dasharray="1.5 2.8"/>
<polyline points="37.20,353.40 57.00,359.00 76.50,361.40 96.20,363.50 115.80,365.50 135.20,369.20 155.00,371.20 174.50,372.60" fill="none" stroke="#ff4a7c" stroke-width="1.7" stroke-linejoin="round" />
<polyline points="37.20,350.00 57.00,355.00 76.50,356.00 96.20,357.20 115.80,363.00 135.20,365.90 155.00,370.00 174.50,371.90" fill="none" stroke="#cc80ff" stroke-width="1.7" stroke-linejoin="round" />
<polyline points="37.20,333.60 57.00,335.60 76.50,338.60 96.20,340.50 115.80,346.20 135.20,351.00 155.00,366.00 174.50,368.60" fill="none" stroke="#86f086" stroke-width="1.7" stroke-linejoin="round" />
<polyline points="37.20,319.40 57.00,326.00 76.50,327.40 96.20,328.80 115.80,332.00 135.20,347.80 155.00,355.00 174.50,361.10" fill="none" stroke="#3c3cff" stroke-width="1.7" stroke-linejoin="round" />
<polyline points="37.20,283.60 57.00,286.00 76.50,290.00 96.20,292.60 115.80,296.20 135.20,318.70 155.00,330.60 174.50,345.70" fill="none" stroke="#2ee39a" stroke-width="1.7" stroke-linejoin="round" />
<polyline points="37.20,283.60 57.00,296.60 76.50,301.40 96.20,308.50 115.80,317.50 135.20,335.20 155.00,348.40 174.50,354.80" fill="none" stroke="#ff6868" stroke-width="1.7" stroke-linejoin="round" />
<polygon points="37.20,350.80 39.80,353.40 37.20,356.00 34.60,353.40" fill="#ff4a7c"/>
<polygon points="57.00,356.40 59.60,359.00 57.00,361.60 54.40,359.00" fill="#ff4a7c"/>
<polygon points="76.50,358.80 79.10,361.40 76.50,364.00 73.90,361.40" fill="#ff4a7c"/>
<polygon points="96.20,360.90 98.80,363.50 96.20,366.10 93.60,363.50" fill="#ff4a7c"/>
<polygon points="115.80,362.90 118.40,365.50 115.80,368.10 113.20,365.50" fill="#ff4a7c"/>
<polygon points="135.20,366.60 137.80,369.20 135.20,371.80 132.60,369.20" fill="#ff4a7c"/>
<polygon points="155.00,368.60 157.60,371.20 155.00,373.80 152.40,371.20" fill="#ff4a7c"/>
<polygon points="174.50,370.00 177.10,372.60 174.50,375.20 171.90,372.60" fill="#ff4a7c"/>
<polygon points="37.20,348.00 39.20,350.00 37.20,352.00 35.20,350.00" fill="#cc80ff"/>
<polygon points="57.00,353.00 59.00,355.00 57.00,357.00 55.00,355.00" fill="#cc80ff"/>
<polygon points="76.50,354.00 78.50,356.00 76.50,358.00 74.50,356.00" fill="#cc80ff"/>
<polygon points="96.20,355.20 98.20,357.20 96.20,359.20 94.20,357.20" fill="#cc80ff"/>
<polygon points="115.80,361.00 117.80,363.00 115.80,365.00 113.80,363.00" fill="#cc80ff"/>
<polygon points="135.20,363.90 137.20,365.90 135.20,367.90 133.20,365.90" fill="#cc80ff"/>
<polygon points="155.00,368.00 157.00,370.00 155.00,372.00 153.00,370.00" fill="#cc80ff"/>
<polygon points="174.50,369.90 176.50,371.90 174.50,373.90 172.50,371.90" fill="#cc80ff"/>
<polygon points="35.60,332.32 38.80,332.32 37.20,335.20" fill="#86f086"/>
<polygon points="55.40,334.32 58.60,334.32 57.00,337.20" fill="#86f086"/>
<polygon points="74.90,337.32 78.10,337.32 76.50,340.20" fill="#86f086"/>
<polygon points="94.60,339.22 97.80,339.22 96.20,342.10" fill="#86f086"/>
<polygon points="114.20,344.92 117.40,344.92 115.80,347.80" fill="#86f086"/>
<polygon points="133.60,349.72 136.80,349.72 135.20,352.60" fill="#86f086"/>
<polygon points="153.40,364.72 156.60,364.72 155.00,367.60" fill="#86f086"/>
<polygon points="172.90,367.32 176.10,367.32 174.50,370.20" fill="#86f086"/>
<polygon points="34.80,321.32 39.60,321.32 37.20,317.00" fill="#3c3cff"/>
<polygon points="54.60,327.92 59.40,327.92 57.00,323.60" fill="#3c3cff"/>
<polygon points="74.10,329.32 78.90,329.32 76.50,325.00" fill="#3c3cff"/>
<polygon points="93.80,330.72 98.60,330.72 96.20,326.40" fill="#3c3cff"/>
<polygon points="113.40,333.92 118.20,333.92 115.80,329.60" fill="#3c3cff"/>
<polygon points="132.80,349.72 137.60,349.72 135.20,345.40" fill="#3c3cff"/>
<polygon points="152.60,356.92 157.40,356.92 155.00,352.60" fill="#3c3cff"/>
<polygon points="172.10,363.02 176.90,363.02 174.50,358.70" fill="#3c3cff"/>
<rect x="35.00" y="281.40" width="4.40" height="4.40" fill="#2ee39a"/>
<rect x="54.80" y="283.80" width="4.40" height="4.40" fill="#2ee39a"/>
<rect x="74.30" y="287.80" width="4.40" height="4.40" fill="#2ee39a"/>
<rect x="94.00" y="290.40" width="4.40" height="4.40" fill="#2ee39a"/>
<rect x="113.60" y="294.00" width="4.40" height="4.40" fill="#2ee39a"/>
<rect x="133.00" y="316.50" width="4.40" height="4.40" fill="#2ee39a"/>
<rect x="152.80" y="328.40" width="4.40" height="4.40" fill="#2ee39a"/>
<rect x="172.30" y="343.50" width="4.40" height="4.40" fill="#2ee39a"/>
<path d="M35.20 283.60H39.20M37.20 281.60V285.60" stroke="#ff6868" stroke-width="1.3"/>
<path d="M55.00 296.60H59.00M57.00 294.60V298.60" stroke="#ff6868" stroke-width="1.3"/>
<path d="M74.50 301.40H78.50M76.50 299.40V303.40" stroke="#ff6868" stroke-width="1.3"/>
<path d="M94.20 308.50H98.20M96.20 306.50V310.50" stroke="#ff6868" stroke-width="1.3"/>
<path d="M113.80 317.50H117.80M115.80 315.50V319.50" stroke="#ff6868" stroke-width="1.3"/>
<path d="M133.20 335.20H137.20M135.20 333.20V337.20" stroke="#ff6868" stroke-width="1.3"/>
<path d="M153.00 348.40H157.00M155.00 346.40V350.40" stroke="#ff6868" stroke-width="1.3"/>
<path d="M172.50 354.80H176.50M174.50 352.80V356.80" stroke="#ff6868" stroke-width="1.3"/>
<line x1="135.20" y1="315.50" x2="135.20" y2="321.90" stroke="#2ee39a" stroke-width="1.2" />
<line x1="133.40" y1="315.50" x2="137.00" y2="315.50" stroke="#2ee39a" stroke-width="1.1" />
<line x1="133.40" y1="321.90" x2="137.00" y2="321.90" stroke="#2ee39a" stroke-width="1.1" />
<line x1="155.00" y1="327.40" x2="155.00" y2="333.80" stroke="#2ee39a" stroke-width="1.2" />
<line x1="153.20" y1="327.40" x2="156.80" y2="327.40" stroke="#2ee39a" stroke-width="1.1" />
<line x1="153.20" y1="333.80" x2="156.80" y2="333.80" stroke="#2ee39a" stroke-width="1.1" />
<line x1="174.50" y1="342.10" x2="174.50" y2="349.30" stroke="#2ee39a" stroke-width="1.2" />
<line x1="172.70" y1="342.10" x2="176.30" y2="342.10" stroke="#2ee39a" stroke-width="1.1" />
<line x1="172.70" y1="349.30" x2="176.30" y2="349.30" stroke="#2ee39a" stroke-width="1.1" />
<line x1="115.80" y1="315.50" x2="115.80" y2="319.50" stroke="#ff6868" stroke-width="1.2" />
<line x1="114.00" y1="315.50" x2="117.60" y2="315.50" stroke="#ff6868" stroke-width="1.1" />
<line x1="114.00" y1="319.50" x2="117.60" y2="319.50" stroke="#ff6868" stroke-width="1.1" />
<line x1="135.20" y1="333.70" x2="135.20" y2="336.70" stroke="#ff6868" stroke-width="1.2" />
<line x1="133.40" y1="333.70" x2="137.00" y2="333.70" stroke="#ff6868" stroke-width="1.1" />
<line x1="133.40" y1="336.70" x2="137.00" y2="336.70" stroke="#ff6868" stroke-width="1.1" />
<line x1="174.50" y1="353.20" x2="174.50" y2="356.40" stroke="#ff6868" stroke-width="1.2" />
<line x1="172.70" y1="353.20" x2="176.30" y2="353.20" stroke="#ff6868" stroke-width="1.1" />
<line x1="172.70" y1="356.40" x2="176.30" y2="356.40" stroke="#ff6868" stroke-width="1.1" />
<line x1="135.20" y1="345.20" x2="135.20" y2="350.40" stroke="#3c3cff" stroke-width="1.2" />
<line x1="133.40" y1="345.20" x2="137.00" y2="345.20" stroke="#3c3cff" stroke-width="1.1" />
<line x1="133.40" y1="350.40" x2="137.00" y2="350.40" stroke="#3c3cff" stroke-width="1.1" />
<line x1="155.00" y1="353.40" x2="155.00" y2="356.60" stroke="#3c3cff" stroke-width="1.2" />
<line x1="153.20" y1="353.40" x2="156.80" y2="353.40" stroke="#3c3cff" stroke-width="1.1" />
<line x1="153.20" y1="356.60" x2="156.80" y2="356.60" stroke="#3c3cff" stroke-width="1.1" />
<line x1="174.50" y1="359.10" x2="174.50" y2="363.10" stroke="#3c3cff" stroke-width="1.2" />
<line x1="172.70" y1="359.10" x2="176.30" y2="359.10" stroke="#3c3cff" stroke-width="1.1" />
<line x1="172.70" y1="363.10" x2="176.30" y2="363.10" stroke="#3c3cff" stroke-width="1.1" />
<circle cx="54.00" cy="318.00" r="0.95" fill="#2a2a2a"/>
<circle cx="57.00" cy="318.00" r="0.95" fill="#2a2a2a"/>
<circle cx="60.00" cy="318.00" r="0.95" fill="#2a2a2a"/>
<circle cx="73.30" cy="318.00" r="0.95" fill="#2a2a2a"/>
<circle cx="76.30" cy="318.00" r="0.95" fill="#2a2a2a"/>
<circle cx="79.30" cy="318.00" r="0.95" fill="#2a2a2a"/>
<circle cx="93.00" cy="322.20" r="0.95" fill="#2a2a2a"/>
<circle cx="96.00" cy="322.20" r="0.95" fill="#2a2a2a"/>
<circle cx="99.00" cy="322.20" r="0.95" fill="#2a2a2a"/>
<circle cx="112.70" cy="326.20" r="0.95" fill="#2a2a2a"/>
<circle cx="115.70" cy="326.20" r="0.95" fill="#2a2a2a"/>
<circle cx="118.70" cy="326.20" r="0.95" fill="#2a2a2a"/>
<circle cx="132.20" cy="340.40" r="0.95" fill="#2a2a2a"/>
<circle cx="135.20" cy="340.40" r="0.95" fill="#2a2a2a"/>
<circle cx="138.20" cy="340.40" r="0.95" fill="#2a2a2a"/>
<circle cx="152.00" cy="350.10" r="0.95" fill="#2a2a2a"/>
<circle cx="155.00" cy="350.10" r="0.95" fill="#2a2a2a"/>
<circle cx="158.00" cy="350.10" r="0.95" fill="#2a2a2a"/>
<circle cx="166.50" cy="356.90" r="0.95" fill="#2a2a2a"/>
<circle cx="169.50" cy="356.90" r="0.95" fill="#2a2a2a"/>
<circle cx="172.50" cy="356.90" r="0.95" fill="#2a2a2a"/>
<circle cx="54.00" cy="333.40" r="0.95" fill="#2a2a2a"/>
<circle cx="57.00" cy="333.40" r="0.95" fill="#2a2a2a"/>
<circle cx="60.00" cy="333.40" r="0.95" fill="#2a2a2a"/>
<circle cx="73.30" cy="333.40" r="0.95" fill="#2a2a2a"/>
<circle cx="76.30" cy="333.40" r="0.95" fill="#2a2a2a"/>
<circle cx="79.30" cy="333.40" r="0.95" fill="#2a2a2a"/>
<circle cx="93.00" cy="335.00" r="0.95" fill="#2a2a2a"/>
<circle cx="96.00" cy="335.00" r="0.95" fill="#2a2a2a"/>
<circle cx="99.00" cy="335.00" r="0.95" fill="#2a2a2a"/>
<circle cx="112.70" cy="340.50" r="0.95" fill="#2a2a2a"/>
<circle cx="115.70" cy="340.50" r="0.95" fill="#2a2a2a"/>
<circle cx="118.70" cy="340.50" r="0.95" fill="#2a2a2a"/>
<circle cx="130.50" cy="355.40" r="0.95" fill="#2a2a2a"/>
<circle cx="133.50" cy="355.40" r="0.95" fill="#2a2a2a"/>
<circle cx="136.50" cy="355.40" r="0.95" fill="#2a2a2a"/>
<circle cx="152.00" cy="361.40" r="0.95" fill="#2a2a2a"/>
<circle cx="155.00" cy="361.40" r="0.95" fill="#2a2a2a"/>
<circle cx="158.00" cy="361.40" r="0.95" fill="#2a2a2a"/>
<circle cx="166.50" cy="364.80" r="0.95" fill="#2a2a2a"/>
<circle cx="169.50" cy="364.80" r="0.95" fill="#2a2a2a"/>
<circle cx="172.50" cy="364.80" r="0.95" fill="#2a2a2a"/>
<line x1="183.60" y1="275.50" x2="194.20" y2="275.50" stroke="#ff6868" stroke-width="1.6" />
<path d="M187.00 275.50H191.00M189.00 273.50V277.50" stroke="#ff6868" stroke-width="1.3"/>
<text x="196.25" y="278.08" font-size="6.8" text-anchor="start" font-weight="bold" fill="#111"  textLength="26.50" lengthAdjust="spacingAndGlyphs">KPT-330</text>
<line x1="183.60" y1="288.50" x2="194.20" y2="288.50" stroke="#2ee39a" stroke-width="1.6" />
<rect x="186.80" y="286.30" width="4.40" height="4.40" fill="#2ee39a"/>
<text x="196.95" y="291.08" font-size="6.8" text-anchor="start" font-weight="bold" fill="#111"  textLength="12.30" lengthAdjust="spacingAndGlyphs">AZA</text>
<line x1="183.60" y1="301.30" x2="194.20" y2="301.30" stroke="#3c3cff" stroke-width="1.6" />
<text x="195.05" y="303.88" font-size="6.8" text-anchor="start" font-weight="bold" fill="#111"  textLength="65.70" lengthAdjust="spacingAndGlyphs">0.1μM KPT-330+AZA</text>
<line x1="183.60" y1="312.80" x2="194.20" y2="312.80" stroke="#86f086" stroke-width="1.6" />
<text x="195.45" y="315.38" font-size="6.8" text-anchor="start" font-weight="bold" fill="#111"  textLength="65.90" lengthAdjust="spacingAndGlyphs">0.2μM KPT-330+AZA</text>
<line x1="183.60" y1="326.70" x2="194.20" y2="326.70" stroke="#cc80ff" stroke-width="1.6" />
<polygon points="189.00,324.70 191.00,326.70 189.00,328.70 187.00,326.70" fill="#cc80ff"/>
<text x="196.75" y="329.28" font-size="6.8" text-anchor="start" font-weight="bold" fill="#111"  textLength="65.50" lengthAdjust="spacingAndGlyphs">0.4μM KPT-330+AZA</text>
<line x1="183.60" y1="340.80" x2="194.20" y2="340.80" stroke="#ff4a7c" stroke-width="1.6" />
<polygon points="189.00,338.20 191.60,340.80 189.00,343.40 186.40,340.80" fill="#ff4a7c"/>
<text x="195.45" y="343.38" font-size="6.8" text-anchor="start" font-weight="bold" fill="#111"  textLength="65.70" lengthAdjust="spacingAndGlyphs">0.8μM KPT-330+AZA</text>
<line x1="329.00" y1="278.50" x2="395.50" y2="278.50" stroke="#a0a0a0" stroke-width="1.0" />
<line x1="329.00" y1="286.50" x2="395.50" y2="286.50" stroke="#a0a0a0" stroke-width="1.0" />
<line x1="329.00" y1="346.50" x2="395.50" y2="346.50" stroke="#a0a0a0" stroke-width="1.0" />
<line x1="288.70" y1="279.27" x2="377.43" y2="368.00" stroke="#2f2fff" stroke-width="1.3" stroke-dasharray="3.2 2.2"/>
<line x1="288.70" y1="295.40" x2="361.30" y2="368.00" stroke="#2f2fff" stroke-width="1.3" stroke-dasharray="3.2 2.2"/>
<line x1="288.70" y1="287.33" x2="369.37" y2="368.00" stroke="#000" stroke-width="1.6" />
<line x1="288.50" y1="270.00" x2="288.50" y2="372.00" stroke="#1a1a1a" stroke-width="1.0" />
<line x1="284.50" y1="368.50" x2="387.11" y2="368.50" stroke="#1a1a1a" stroke-width="1.0" />
<line x1="284.50" y1="368.50" x2="288.50" y2="368.50" stroke="#1a1a1a" stroke-width="1.0" />
<text x="284.10" y="370.51" font-size="6.6" text-anchor="end" font-weight="bold" fill="#111" >0.0</text>
<text x="287.50" y="381.81" font-size="6.6" text-anchor="middle" font-weight="bold" fill="#111" >0.0</text>
<line x1="284.50" y1="343.50" x2="288.50" y2="343.50" stroke="#1a1a1a" stroke-width="1.0" />
<text x="284.10" y="346.31" font-size="6.6" text-anchor="end" font-weight="bold" fill="#111" >0.3</text>
<line x1="312.50" y1="368.50" x2="312.50" y2="372.00" stroke="#1a1a1a" stroke-width="1.0" />
<text x="312.90" y="381.81" font-size="6.6" text-anchor="middle" font-weight="bold" fill="#111" >0.3</text>
<line x1="284.50" y1="319.50" x2="288.50" y2="319.50" stroke="#1a1a1a" stroke-width="1.0" />
<text x="284.10" y="322.11" font-size="6.6" text-anchor="end" font-weight="bold" fill="#111" >0.6</text>
<line x1="337.50" y1="368.50" x2="337.50" y2="372.00" stroke="#1a1a1a" stroke-width="1.0" />
<text x="337.10" y="381.81" font-size="6.6" text-anchor="middle" font-weight="bold" fill="#111" >0.6</text>
<line x1="284.50" y1="295.50" x2="288.50" y2="295.50" stroke="#1a1a1a" stroke-width="1.0" />
<text x="284.10" y="297.91" font-size="6.6" text-anchor="end" font-weight="bold" fill="#111" >0.9</text>
<line x1="361.50" y1="368.50" x2="361.50" y2="372.00" stroke="#1a1a1a" stroke-width="1.0" />
<text x="361.30" y="381.81" font-size="6.6" text-anchor="middle" font-weight="bold" fill="#111" >0.9</text>
<line x1="284.50" y1="271.50" x2="288.50" y2="271.50" stroke="#1a1a1a" stroke-width="1.0" />
<text x="284.10" y="273.71" font-size="6.6" text-anchor="end" font-weight="bold" fill="#111" >1.2</text>
<line x1="385.50" y1="368.50" x2="385.50" y2="372.00" stroke="#1a1a1a" stroke-width="1.0" />
<text x="385.50" y="381.81" font-size="6.6" text-anchor="middle" font-weight="bold" fill="#111" >1.2</text>
<text x="269.53" y="315.90" font-size="6.95" text-anchor="middle" font-weight="bold" fill="#111" transform="rotate(-90 269.53 315.90)">Combination index</text>
<text x="291.25" y="275.48" font-size="6.8" text-anchor="start" font-weight="bold" fill="#111"  textLength="38.25" lengthAdjust="spacingAndGlyphs">MV4-11_48h</text>
<polygon points="293.70,340.40 295.80,342.50 293.70,344.60 291.60,342.50" fill="#ff3b3b"/>
<polygon points="299.20,343.60 301.30,345.70 299.20,347.80 297.10,345.70" fill="#ff3b3b"/>
<polygon points="307.50,348.40 309.60,350.50 307.50,352.60 305.40,350.50" fill="#ff3b3b"/>
<polygon points="336.20,347.90 338.30,350.00 336.20,352.10 334.10,350.00" fill="#ff3b3b"/>
<polygon points="346.20,355.90 348.30,358.00 346.20,360.10 344.10,358.00" fill="#ff3b3b"/>
<polygon points="350.50,360.90 352.60,363.00 350.50,365.10 348.40,363.00" fill="#ff3b3b"/>
<polygon points="357.00,363.40 359.10,365.50 357.00,367.60 354.90,365.50" fill="#ff3b3b"/>
<text x="332.55" y="285.35" font-size="6.7" text-anchor="start" font-weight="bold" fill="#111"  textLength="26.50" lengthAdjust="spacingAndGlyphs">KPT-330</text>
<text x="364.75" y="285.35" font-size="6.7" text-anchor="start" font-weight="bold" fill="#111"  textLength="27.30" lengthAdjust="spacingAndGlyphs">AZA(μM)</text>
<text x="378.90" y="294.03" font-size="6.95" text-anchor="middle" font-weight="bold" fill="#111" >0.0625</text>
<text x="378.90" y="302.63" font-size="6.95" text-anchor="middle" font-weight="bold" fill="#111" >0.125</text>
<text x="378.90" y="311.23" font-size="6.95" text-anchor="middle" font-weight="bold" fill="#111" >0.25</text>
<text x="378.90" y="319.83" font-size="6.95" text-anchor="middle" font-weight="bold" fill="#111" >0.5</text>
<text x="378.90" y="328.43" font-size="6.95" text-anchor="middle" font-weight="bold" fill="#111" >1</text>
<text x="378.90" y="337.03" font-size="6.95" text-anchor="middle" font-weight="bold" fill="#111" >2</text>
<text x="378.90" y="345.63" font-size="6.95" text-anchor="middle" font-weight="bold" fill="#111" >4</text>
<text x="345.90" y="319.83" font-size="6.95" text-anchor="middle" font-weight="bold" fill="#111" >0.1</text>
<line x1="288.40" y1="388.70" x2="378.60" y2="388.70" stroke="#111" stroke-width="1.1" />
<line x1="288.60" y1="388.70" x2="288.60" y2="385.20" stroke="#111" stroke-width="1.1" />
<polygon points="286.70,386.40 290.50,386.40 288.60,383.00" fill="#111"/>
<line x1="359.60" y1="388.70" x2="359.60" y2="385.20" stroke="#111" stroke-width="1.1" />
<polygon points="357.70,386.40 361.50,386.40 359.60,383.00" fill="#111"/>
<line x1="378.10" y1="388.70" x2="378.10" y2="385.20" stroke="#111" stroke-width="1.1" />
<polygon points="376.20,386.40 380.00,386.40 378.10,383.00" fill="#111"/>
<text x="325.40" y="397.35" font-size="6.7" text-anchor="middle" font-weight="bold" fill="#111" >Synergistic</text>
<text x="370.60" y="397.35" font-size="6.7" text-anchor="middle" font-weight="bold" fill="#111" >Additive</text>
<text x="15.40" y="422.70" font-size="7.9" text-anchor="start" font-weight="bold" fill="#111" >E</text>
<line x1="37.50" y1="421.20" x2="37.50" y2="524.00" stroke="#4a4a4a" stroke-width="1.0" />
<line x1="33.50" y1="520.50" x2="185.00" y2="520.50" stroke="#4a4a4a" stroke-width="1.0" />
<line x1="33.50" y1="520.50" x2="37.50" y2="520.50" stroke="#4a4a4a" stroke-width="1.0" />
<text x="29.70" y="523.17" font-size="6.5" text-anchor="end" font-weight="bold" fill="#111" >0</text>
<line x1="33.50" y1="497.50" x2="37.50" y2="497.50" stroke="#4a4a4a" stroke-width="1.0" />
<text x="32.10" y="500.07" font-size="6.5" text-anchor="end" font-weight="bold" fill="#111" >25</text>
<line x1="33.50" y1="475.50" x2="37.50" y2="475.50" stroke="#4a4a4a" stroke-width="1.0" />
<text x="32.10" y="477.47" font-size="6.5" text-anchor="end" font-weight="bold" fill="#111" >50</text>
<line x1="33.50" y1="452.50" x2="37.50" y2="452.50" stroke="#4a4a4a" stroke-width="1.0" />
<text x="32.10" y="454.88" font-size="6.5" text-anchor="end" font-weight="bold" fill="#111" >75</text>
<line x1="33.50" y1="429.50" x2="37.50" y2="429.50" stroke="#4a4a4a" stroke-width="1.0" />
<text x="32.10" y="432.27" font-size="6.5" text-anchor="end" font-weight="bold" fill="#111" >100</text>
<line x1="56.50" y1="520.50" x2="56.50" y2="524.00" stroke="#4a4a4a" stroke-width="1.0" />
<line x1="76.50" y1="520.50" x2="76.50" y2="524.00" stroke="#4a4a4a" stroke-width="1.0" />
<line x1="96.50" y1="520.50" x2="96.50" y2="524.00" stroke="#4a4a4a" stroke-width="1.0" />
<line x1="115.50" y1="520.50" x2="115.50" y2="524.00" stroke="#4a4a4a" stroke-width="1.0" />
<line x1="134.50" y1="520.50" x2="134.50" y2="524.00" stroke="#4a4a4a" stroke-width="1.0" />
<line x1="154.50" y1="520.50" x2="154.50" y2="524.00" stroke="#4a4a4a" stroke-width="1.0" />
<line x1="174.50" y1="520.50" x2="174.50" y2="524.00" stroke="#4a4a4a" stroke-width="1.0" />
<text x="18.21" y="465.20" font-size="6.6" text-anchor="middle" font-weight="bold" fill="#111" transform="rotate(-90 18.21 465.20)">% Cell Viability</text>
<text x="2.95" y="532.48" font-size="6.5" text-anchor="start" font-weight="bold" fill="#111"  textLength="42.20" lengthAdjust="spacingAndGlyphs">KPT-330 (μM)</text>
<text x="15.95" y="543.77" font-size="6.5" text-anchor="start" font-weight="bold" fill="#111"  textLength="29.20" lengthAdjust="spacingAndGlyphs">AZA (μM)</text>
<text x="48.15" y="532.51" font-size="6.6" text-anchor="start" font-weight="bold" fill="#111"  textLength="22.00" lengthAdjust="spacingAndGlyphs">0.0125</text>
<text x="72.15" y="532.51" font-size="6.6" text-anchor="start" font-weight="bold" fill="#111"  textLength="17.40" lengthAdjust="spacingAndGlyphs">0.025</text>
<text x="91.25" y="532.51" font-size="6.6" text-anchor="start" font-weight="bold" fill="#111"  textLength="13.40" lengthAdjust="spacingAndGlyphs">0.05</text>
<text x="112.25" y="532.51" font-size="6.6" text-anchor="start" font-weight="bold" fill="#111"  textLength="8.90" lengthAdjust="spacingAndGlyphs">0.1</text>
<text x="131.65" y="532.51" font-size="6.6" text-anchor="start" font-weight="bold" fill="#111"  textLength="9.30" lengthAdjust="spacingAndGlyphs">0.2</text>
<text x="150.15" y="532.51" font-size="6.6" text-anchor="start" font-weight="bold" fill="#111"  textLength="9.00" lengthAdjust="spacingAndGlyphs">0.4</text>
<text x="171.05" y="532.51" font-size="6.6" text-anchor="start" font-weight="bold" fill="#111"  textLength="9.50" lengthAdjust="spacingAndGlyphs">0.8</text>
<text x="48.15" y="543.81" font-size="6.6" text-anchor="start" font-weight="bold" fill="#111"  textLength="22.00" lengthAdjust="spacingAndGlyphs">0.0625</text>
<text x="72.15" y="543.81" font-size="6.6" text-anchor="start" font-weight="bold" fill="#111"  textLength="17.40" lengthAdjust="spacingAndGlyphs">0.125</text>
<text x="91.25" y="543.81" font-size="6.6" text-anchor="start" font-weight="bold" fill="#111"  textLength="13.40" lengthAdjust="spacingAndGlyphs">0.25</text>
<text x="112.45" y="543.81" font-size="6.6" text-anchor="start" font-weight="bold" fill="#111"  textLength="8.90" lengthAdjust="spacingAndGlyphs">0.5</text>
<text x="135.70" y="543.81" font-size="6.6" text-anchor="middle" font-weight="bold" fill="#111" >1</text>
<text x="154.60" y="543.81" font-size="6.6" text-anchor="middle" font-weight="bold" fill="#111" >2</text>
<text x="174.50" y="543.81" font-size="6.6" text-anchor="middle" font-weight="bold" fill="#111" >4</text>
<text x="77.75" y="427.58" font-size="6.8" text-anchor="start" font-weight="bold" fill="#111"  textLength="34.00" lengthAdjust="spacingAndGlyphs">THP-1_48h</text>
<line x1="41.20" y1="475.10" x2="184.00" y2="475.10" stroke="#ff8c8c" stroke-width="1.1" stroke-dasharray="1.5 2.8"/>
<polyline points="37.00,485.40 56.50,486.00 76.10,489.00 96.00,491.10 115.70,493.00 134.80,496.50 154.60,509.20 174.20,514.30" fill="none" stroke="#ff4a7c" stroke-width="1.7" stroke-linejoin="round" />
<polyline points="37.00,477.00 56.50,478.00 76.10,478.40 96.00,479.50 115.70,484.50 134.80,490.00 154.60,500.10 174.20,507.10" fill="none" stroke="#cc80ff" stroke-width="1.7" stroke-linejoin="round" />
<polyline points="37.00,467.00 56.50,468.40 76.10,471.60 96.00,475.00 115.70,477.00 134.80,485.40 154.60,492.20 174.20,495.80" fill="none" stroke="#86f086" stroke-width="1.7" stroke-linejoin="round" />
<polyline points="37.00,459.00 56.50,461.40 76.10,462.40 96.00,466.00 115.70,472.50 134.80,483.00 154.60,490.80 174.20,494.40" fill="none" stroke="#3c3cff" stroke-width="1.7" stroke-linejoin="round" />
<polyline points="37.00,429.90 56.50,435.00 76.10,442.40 96.00,449.70 115.70,452.00 134.80,458.80 154.60,469.00 174.20,480.60" fill="none" stroke="#2ee39a" stroke-width="1.7" stroke-linejoin="round" />
<polyline points="37.00,429.90 56.50,440.00 76.10,448.00 96.00,451.30 115.70,460.00 134.80,467.50 154.60,476.80 174.20,488.20" fill="none" stroke="#ff6868" stroke-width="1.7" stroke-linejoin="round" />
<polygon points="37.00,482.80 39.60,485.40 37.00,488.00 34.40,485.40" fill="#ff4a7c"/>
<polygon points="56.50,483.40 59.10,486.00 56.50,488.60 53.90,486.00" fill="#ff4a7c"/>
<polygon points="76.10,486.40 78.70,489.00 76.10,491.60 73.50,489.00" fill="#ff4a7c"/>
<polygon points="96.00,488.50 98.60,491.10 96.00,493.70 93.40,491.10" fill="#ff4a7c"/>
<polygon points="115.70,490.40 118.30,493.00 115.70,495.60 113.10,493.00" fill="#ff4a7c"/>
<polygon points="134.80,493.90 137.40,496.50 134.80,499.10 132.20,496.50" fill="#ff4a7c"/>
<polygon points="154.60,506.60 157.20,509.20 154.60,511.80 152.00,509.20" fill="#ff4a7c"/>
<polygon points="174.20,511.70 176.80,514.30 174.20,516.90 171.60,514.30" fill="#ff4a7c"/>
<polygon points="37.00,475.00 39.00,477.00 37.00,479.00 35.00,477.00" fill="#cc80ff"/>
<polygon points="56.50,476.00 58.50,478.00 56.50,480.00 54.50,478.00" fill="#cc80ff"/>
<polygon points="76.10,476.40 78.10,478.40 76.10,480.40 74.10,478.40" fill="#cc80ff"/>
<polygon points="96.00,477.50 98.00,479.50 96.00,481.50 94.00,479.50" fill="#cc80ff"/>
<polygon points="115.70,482.50 117.70,484.50 115.70,486.50 113.70,484.50" fill="#cc80ff"/>
<polygon points="134.80,488.00 136.80,490.00 134.80,492.00 132.80,490.00" fill="#cc80ff"/>
<polygon points="154.60,498.10 156.60,500.10 154.60,502.10 152.60,500.10" fill="#cc80ff"/>
<polygon points="174.20,505.10 176.20,507.10 174.20,509.10 172.20,507.10" fill="#cc80ff"/>
<polygon points="35.40,465.72 38.60,465.72 37.00,468.60" fill="#86f086"/>
<polygon points="54.90,467.12 58.10,467.12 56.50,470.00" fill="#86f086"/>
<polygon points="74.50,470.32 77.70,470.32 76.10,473.20" fill="#86f086"/>
<polygon points="94.40,473.72 97.60,473.72 96.00,476.60" fill="#86f086"/>
<polygon points="114.10,475.72 117.30,475.72 115.70,478.60" fill="#86f086"/>
<polygon points="133.20,484.12 136.40,484.12 134.80,487.00" fill="#86f086"/>
<polygon points="153.00,490.92 156.20,490.92 154.60,493.80" fill="#86f086"/>
<polygon points="172.60,494.52 175.80,494.52 174.20,497.40" fill="#86f086"/>
<polygon points="34.60,460.92 39.40,460.92 37.00,456.60" fill="#3c3cff"/>
<polygon points="54.10,463.32 58.90,463.32 56.50,459.00" fill="#3c3cff"/>
<polygon points="73.70,464.32 78.50,464.32 76.10,460.00" fill="#3c3cff"/>
<polygon points="93.60,467.92 98.40,467.92 96.00,463.60" fill="#3c3cff"/>
<polygon points="113.30,474.42 118.10,474.42 115.70,470.10" fill="#3c3cff"/>
<polygon points="132.40,484.92 137.20,484.92 134.80,480.60" fill="#3c3cff"/>
<polygon points="152.20,492.72 157.00,492.72 154.60,488.40" fill="#3c3cff"/>
<polygon points="171.80,496.32 176.60,496.32 174.20,492.00" fill="#3c3cff"/>
<rect x="34.80" y="427.70" width="4.40" height="4.40" fill="#2ee39a"/>
<rect x="54.30" y="432.80" width="4.40" height="4.40" fill="#2ee39a"/>
<rect x="73.90" y="440.20" width="4.40" height="4.40" fill="#2ee39a"/>
<rect x="93.80" y="447.50" width="4.40" height="4.40" fill="#2ee39a"/>
<rect x="113.50" y="449.80" width="4.40" height="4.40" fill="#2ee39a"/>
<rect x="132.60" y="456.60" width="4.40" height="4.40" fill="#2ee39a"/>
<rect x="152.40" y="466.80" width="4.40" height="4.40" fill="#2ee39a"/>
<rect x="172.00" y="478.40" width="4.40" height="4.40" fill="#2ee39a"/>
<path d="M35.00 429.90H39.00M37.00 427.90V431.90" stroke="#ff6868" stroke-width="1.3"/>
<path d="M54.50 440.00H58.50M56.50 438.00V442.00" stroke="#ff6868" stroke-width="1.3"/>
<path d="M74.10 448.00H78.10M76.10 446.00V450.00" stroke="#ff6868" stroke-width="1.3"/>
<path d="M94.00 451.30H98.00M96.00 449.30V453.30" stroke="#ff6868" stroke-width="1.3"/>
<path d="M113.70 460.00H117.70M115.70 458.00V462.00" stroke="#ff6868" stroke-width="1.3"/>
<path d="M132.80 467.50H136.80M134.80 465.50V469.50" stroke="#ff6868" stroke-width="1.3"/>
<path d="M152.60 476.80H156.60M154.60 474.80V478.80" stroke="#ff6868" stroke-width="1.3"/>
<path d="M172.20 488.20H176.20M174.20 486.20V490.20" stroke="#ff6868" stroke-width="1.3"/>
<line x1="56.50" y1="437.80" x2="56.50" y2="442.20" stroke="#ff6868" stroke-width="1.2" />
<line x1="54.70" y1="437.80" x2="58.30" y2="437.80" stroke="#ff6868" stroke-width="1.1" />
<line x1="54.70" y1="442.20" x2="58.30" y2="442.20" stroke="#ff6868" stroke-width="1.1" />
<line x1="174.20" y1="485.70" x2="174.20" y2="490.70" stroke="#ff6868" stroke-width="1.2" />
<line x1="172.40" y1="485.70" x2="176.00" y2="485.70" stroke="#ff6868" stroke-width="1.1" />
<line x1="172.40" y1="490.70" x2="176.00" y2="490.70" stroke="#ff6868" stroke-width="1.1" />
<line x1="37.00" y1="456.40" x2="37.00" y2="461.60" stroke="#3c3cff" stroke-width="1.2" />
<line x1="35.20" y1="456.40" x2="38.80" y2="456.40" stroke="#3c3cff" stroke-width="1.1" />
<line x1="35.20" y1="461.60" x2="38.80" y2="461.60" stroke="#3c3cff" stroke-width="1.1" />
<line x1="56.50" y1="459.60" x2="56.50" y2="463.20" stroke="#3c3cff" stroke-width="1.2" />
<line x1="54.70" y1="459.60" x2="58.30" y2="459.60" stroke="#3c3cff" stroke-width="1.1" />
<line x1="54.70" y1="463.20" x2="58.30" y2="463.20" stroke="#3c3cff" stroke-width="1.1" />
<line x1="96.00" y1="464.00" x2="96.00" y2="468.00" stroke="#3c3cff" stroke-width="1.2" />
<line x1="94.20" y1="464.00" x2="97.80" y2="464.00" stroke="#3c3cff" stroke-width="1.1" />
<line x1="94.20" y1="468.00" x2="97.80" y2="468.00" stroke="#3c3cff" stroke-width="1.1" />
<line x1="115.70" y1="470.50" x2="115.70" y2="474.50" stroke="#3c3cff" stroke-width="1.2" />
<line x1="113.90" y1="470.50" x2="117.50" y2="470.50" stroke="#3c3cff" stroke-width="1.1" />
<line x1="113.90" y1="474.50" x2="117.50" y2="474.50" stroke="#3c3cff" stroke-width="1.1" />
<circle cx="53.40" cy="453.00" r="0.95" fill="#2a2a2a"/>
<circle cx="56.40" cy="453.00" r="0.95" fill="#2a2a2a"/>
<circle cx="59.40" cy="453.00" r="0.95" fill="#2a2a2a"/>
<circle cx="73.30" cy="456.40" r="0.95" fill="#2a2a2a"/>
<circle cx="76.30" cy="456.40" r="0.95" fill="#2a2a2a"/>
<circle cx="79.30" cy="456.40" r="0.95" fill="#2a2a2a"/>
<circle cx="93.00" cy="461.10" r="0.95" fill="#2a2a2a"/>
<circle cx="96.00" cy="461.10" r="0.95" fill="#2a2a2a"/>
<circle cx="99.00" cy="461.10" r="0.95" fill="#2a2a2a"/>
<circle cx="112.70" cy="468.70" r="0.95" fill="#2a2a2a"/>
<circle cx="115.70" cy="468.70" r="0.95" fill="#2a2a2a"/>
<circle cx="118.70" cy="468.70" r="0.95" fill="#2a2a2a"/>
<circle cx="131.70" cy="478.70" r="0.95" fill="#2a2a2a"/>
<circle cx="134.70" cy="478.70" r="0.95" fill="#2a2a2a"/>
<circle cx="137.70" cy="478.70" r="0.95" fill="#2a2a2a"/>
<circle cx="151.60" cy="485.70" r="0.95" fill="#2a2a2a"/>
<circle cx="154.60" cy="485.70" r="0.95" fill="#2a2a2a"/>
<circle cx="157.60" cy="485.70" r="0.95" fill="#2a2a2a"/>
<circle cx="167.70" cy="488.40" r="0.95" fill="#2a2a2a"/>
<circle cx="170.70" cy="488.40" r="0.95" fill="#2a2a2a"/>
<circle cx="173.70" cy="488.40" r="0.95" fill="#2a2a2a"/>
<circle cx="53.40" cy="467.40" r="0.95" fill="#2a2a2a"/>
<circle cx="56.40" cy="467.40" r="0.95" fill="#2a2a2a"/>
<circle cx="59.40" cy="467.40" r="0.95" fill="#2a2a2a"/>
<circle cx="73.30" cy="468.40" r="0.95" fill="#2a2a2a"/>
<circle cx="76.30" cy="468.40" r="0.95" fill="#2a2a2a"/>
<circle cx="79.30" cy="468.40" r="0.95" fill="#2a2a2a"/>
<circle cx="93.00" cy="472.80" r="0.95" fill="#2a2a2a"/>
<circle cx="96.00" cy="472.80" r="0.95" fill="#2a2a2a"/>
<circle cx="99.00" cy="472.80" r="0.95" fill="#2a2a2a"/>
<circle cx="112.70" cy="479.50" r="0.95" fill="#2a2a2a"/>
<circle cx="115.70" cy="479.50" r="0.95" fill="#2a2a2a"/>
<circle cx="118.70" cy="479.50" r="0.95" fill="#2a2a2a"/>
<circle cx="131.70" cy="486.20" r="0.95" fill="#2a2a2a"/>
<circle cx="134.70" cy="486.20" r="0.95" fill="#2a2a2a"/>
<circle cx="137.70" cy="486.20" r="0.95" fill="#2a2a2a"/>
<circle cx="151.60" cy="495.90" r="0.95" fill="#2a2a2a"/>
<circle cx="154.60" cy="495.90" r="0.95" fill="#2a2a2a"/>
<circle cx="157.60" cy="495.90" r="0.95" fill="#2a2a2a"/>
<circle cx="171.40" cy="497.10" r="0.95" fill="#2a2a2a"/>
<circle cx="174.40" cy="497.10" r="0.95" fill="#2a2a2a"/>
<circle cx="177.40" cy="497.10" r="0.95" fill="#2a2a2a"/>
<line x1="183.60" y1="422.30" x2="194.20" y2="422.30" stroke="#ff6868" stroke-width="1.6" />
<path d="M187.00 422.30H191.00M189.00 420.30V424.30" stroke="#ff6868" stroke-width="1.3"/>
<text x="196.25" y="424.88" font-size="6.8" text-anchor="start" font-weight="bold" fill="#111"  textLength="26.50" lengthAdjust="spacingAndGlyphs">KPT-330</text>
<line x1="183.60" y1="435.80" x2="194.20" y2="435.80" stroke="#2ee39a" stroke-width="1.6" />
<rect x="186.80" y="433.60" width="4.40" height="4.40" fill="#2ee39a"/>
<text x="196.95" y="438.38" font-size="6.8" text-anchor="start" font-weight="bold" fill="#111"  textLength="12.30" lengthAdjust="spacingAndGlyphs">AZA</text>
<line x1="183.60" y1="448.10" x2="194.20" y2="448.10" stroke="#3c3cff" stroke-width="1.6" />
<text x="195.05" y="450.68" font-size="6.8" text-anchor="start" font-weight="bold" fill="#111"  textLength="65.70" lengthAdjust="spacingAndGlyphs">0.1μM KPT-330+AZA</text>
<line x1="183.60" y1="458.90" x2="194.20" y2="458.90" stroke="#86f086" stroke-width="1.6" />
<text x="195.45" y="461.48" font-size="6.8" text-anchor="start" font-weight="bold" fill="#111"  textLength="65.90" lengthAdjust="spacingAndGlyphs">0.2μM KPT-330+AZA</text>
<line x1="183.60" y1="473.50" x2="194.20" y2="473.50" stroke="#cc80ff" stroke-width="1.6" />
<polygon points="189.00,471.50 191.00,473.50 189.00,475.50 187.00,473.50" fill="#cc80ff"/>
<text x="196.75" y="476.08" font-size="6.8" text-anchor="start" font-weight="bold" fill="#111"  textLength="65.50" lengthAdjust="spacingAndGlyphs">0.4μM KPT-330+AZA</text>
<line x1="183.60" y1="487.40" x2="194.20" y2="487.40" stroke="#ff4a7c" stroke-width="1.6" />
<polygon points="189.00,484.80 191.60,487.40 189.00,490.00 186.40,487.40" fill="#ff4a7c"/>
<text x="195.45" y="489.98" font-size="6.8" text-anchor="start" font-weight="bold" fill="#111"  textLength="65.70" lengthAdjust="spacingAndGlyphs">0.8μM KPT-330+AZA</text>
<line x1="329.00" y1="426.50" x2="395.50" y2="426.50" stroke="#a0a0a0" stroke-width="1.0" />
<line x1="329.00" y1="435.50" x2="395.50" y2="435.50" stroke="#a0a0a0" stroke-width="1.0" />
<line x1="329.00" y1="495.50" x2="395.50" y2="495.50" stroke="#a0a0a0" stroke-width="1.0" />
<line x1="288.40" y1="424.89" x2="378.51" y2="515.00" stroke="#2f2fff" stroke-width="1.3" stroke-dasharray="3.2 2.2"/>
<line x1="288.40" y1="441.27" x2="362.12" y2="515.00" stroke="#2f2fff" stroke-width="1.3" stroke-dasharray="3.2 2.2"/>
<line x1="288.40" y1="433.08" x2="370.32" y2="515.00" stroke="#000" stroke-width="1.6" />
<line x1="288.50" y1="415.50" x2="288.50" y2="519.00" stroke="#1a1a1a" stroke-width="1.0" />
<line x1="284.50" y1="515.50" x2="388.34" y2="515.50" stroke="#1a1a1a" stroke-width="1.0" />
<line x1="284.50" y1="515.50" x2="288.50" y2="515.50" stroke="#1a1a1a" stroke-width="1.0" />
<text x="283.80" y="517.51" font-size="6.6" text-anchor="end" font-weight="bold" fill="#111" >0.0</text>
<text x="287.20" y="527.81" font-size="6.6" text-anchor="middle" font-weight="bold" fill="#111" >0.0</text>
<line x1="284.50" y1="490.50" x2="288.50" y2="490.50" stroke="#1a1a1a" stroke-width="1.0" />
<text x="283.80" y="492.94" font-size="6.6" text-anchor="end" font-weight="bold" fill="#111" >0.3</text>
<line x1="312.50" y1="515.50" x2="312.50" y2="519.00" stroke="#1a1a1a" stroke-width="1.0" />
<text x="312.97" y="527.81" font-size="6.6" text-anchor="middle" font-weight="bold" fill="#111" >0.3</text>
<line x1="284.50" y1="465.50" x2="288.50" y2="465.50" stroke="#1a1a1a" stroke-width="1.0" />
<text x="283.80" y="468.36" font-size="6.6" text-anchor="end" font-weight="bold" fill="#111" >0.6</text>
<line x1="337.50" y1="515.50" x2="337.50" y2="519.00" stroke="#1a1a1a" stroke-width="1.0" />
<text x="337.55" y="527.81" font-size="6.6" text-anchor="middle" font-weight="bold" fill="#111" >0.6</text>
<line x1="284.50" y1="441.50" x2="288.50" y2="441.50" stroke="#1a1a1a" stroke-width="1.0" />
<text x="283.80" y="443.78" font-size="6.6" text-anchor="end" font-weight="bold" fill="#111" >0.9</text>
<line x1="362.50" y1="515.50" x2="362.50" y2="519.00" stroke="#1a1a1a" stroke-width="1.0" />
<text x="362.12" y="527.81" font-size="6.6" text-anchor="middle" font-weight="bold" fill="#111" >0.9</text>
<line x1="284.50" y1="416.50" x2="288.50" y2="416.50" stroke="#1a1a1a" stroke-width="1.0" />
<text x="283.80" y="419.21" font-size="6.6" text-anchor="end" font-weight="bold" fill="#111" >1.2</text>
<line x1="386.50" y1="515.50" x2="386.50" y2="519.00" stroke="#1a1a1a" stroke-width="1.0" />
<text x="386.70" y="527.81" font-size="6.6" text-anchor="middle" font-weight="bold" fill="#111" >1.2</text>
<text x="269.33" y="463.10" font-size="6.95" text-anchor="middle" font-weight="bold" fill="#111" transform="rotate(-90 269.33 463.10)">Combination index</text>
<text x="293.00" y="422.68" font-size="6.8" text-anchor="start" font-weight="bold" fill="#111"  textLength="34.00" lengthAdjust="spacingAndGlyphs">THP-1_48h</text>
<polygon points="294.50,477.40 296.60,479.50 294.50,481.60 292.40,479.50" fill="#ff3b3b"/>
<polygon points="296.20,491.10 298.30,493.20 296.20,495.30 294.10,493.20" fill="#ff3b3b"/>
<polygon points="303.00,494.10 305.10,496.20 303.00,498.30 300.90,496.20" fill="#ff3b3b"/>
<polygon points="318.70,494.60 320.80,496.70 318.70,498.80 316.60,496.70" fill="#ff3b3b"/>
<polygon points="336.20,499.10 338.30,501.20 336.20,503.30 334.10,501.20" fill="#ff3b3b"/>
<polygon points="345.70,504.90 347.80,507.00 345.70,509.10 343.60,507.00" fill="#ff3b3b"/>
<polygon points="352.00,508.40 354.10,510.50 352.00,512.60 349.90,510.50" fill="#ff3b3b"/>
<text x="332.55" y="433.35" font-size="6.7" text-anchor="start" font-weight="bold" fill="#111"  textLength="26.50" lengthAdjust="spacingAndGlyphs">KPT-330</text>
<text x="364.75" y="433.35" font-size="6.7" text-anchor="start" font-weight="bold" fill="#111"  textLength="27.30" lengthAdjust="spacingAndGlyphs">AZA(μM)</text>
<text x="378.90" y="442.43" font-size="6.95" text-anchor="middle" font-weight="bold" fill="#111" >0.0625</text>
<text x="378.90" y="451.03" font-size="6.95" text-anchor="middle" font-weight="bold" fill="#111" >0.125</text>
<text x="378.90" y="459.63" font-size="6.95" text-anchor="middle" font-weight="bold" fill="#111" >0.25</text>
<text x="378.90" y="468.23" font-size="6.95" text-anchor="middle" font-weight="bold" fill="#111" >0.5</text>
<text x="378.90" y="476.83" font-size="6.95" text-anchor="middle" font-weight="bold" fill="#111" >1</text>
<text x="378.90" y="485.43" font-size="6.95" text-anchor="middle" font-weight="bold" fill="#111" >2</text>
<text x="378.90" y="494.03" font-size="6.95" text-anchor="middle" font-weight="bold" fill="#111" >4</text>
<text x="345.90" y="468.23" font-size="6.95" text-anchor="middle" font-weight="bold" fill="#111" >0.1</text>
<line x1="288.40" y1="535.50" x2="378.60" y2="535.50" stroke="#111" stroke-width="1.1" />
<line x1="288.60" y1="535.50" x2="288.60" y2="532.00" stroke="#111" stroke-width="1.1" />
<polygon points="286.70,533.20 290.50,533.20 288.60,529.80" fill="#111"/>
<line x1="359.60" y1="535.50" x2="359.60" y2="532.00" stroke="#111" stroke-width="1.1" />
<polygon points="357.70,533.20 361.50,533.20 359.60,529.80" fill="#111"/>
<line x1="378.10" y1="535.50" x2="378.10" y2="532.00" stroke="#111" stroke-width="1.1" />
<polygon points="376.20,533.20 380.00,533.20 378.10,529.80" fill="#111"/>
<text x="325.40" y="544.05" font-size="6.7" text-anchor="middle" font-weight="bold" fill="#111" >Synergistic</text>
<text x="370.60" y="544.05" font-size="6.7" text-anchor="middle" font-weight="bold" fill="#111" >Additive</text>
</svg>
</body></html>
